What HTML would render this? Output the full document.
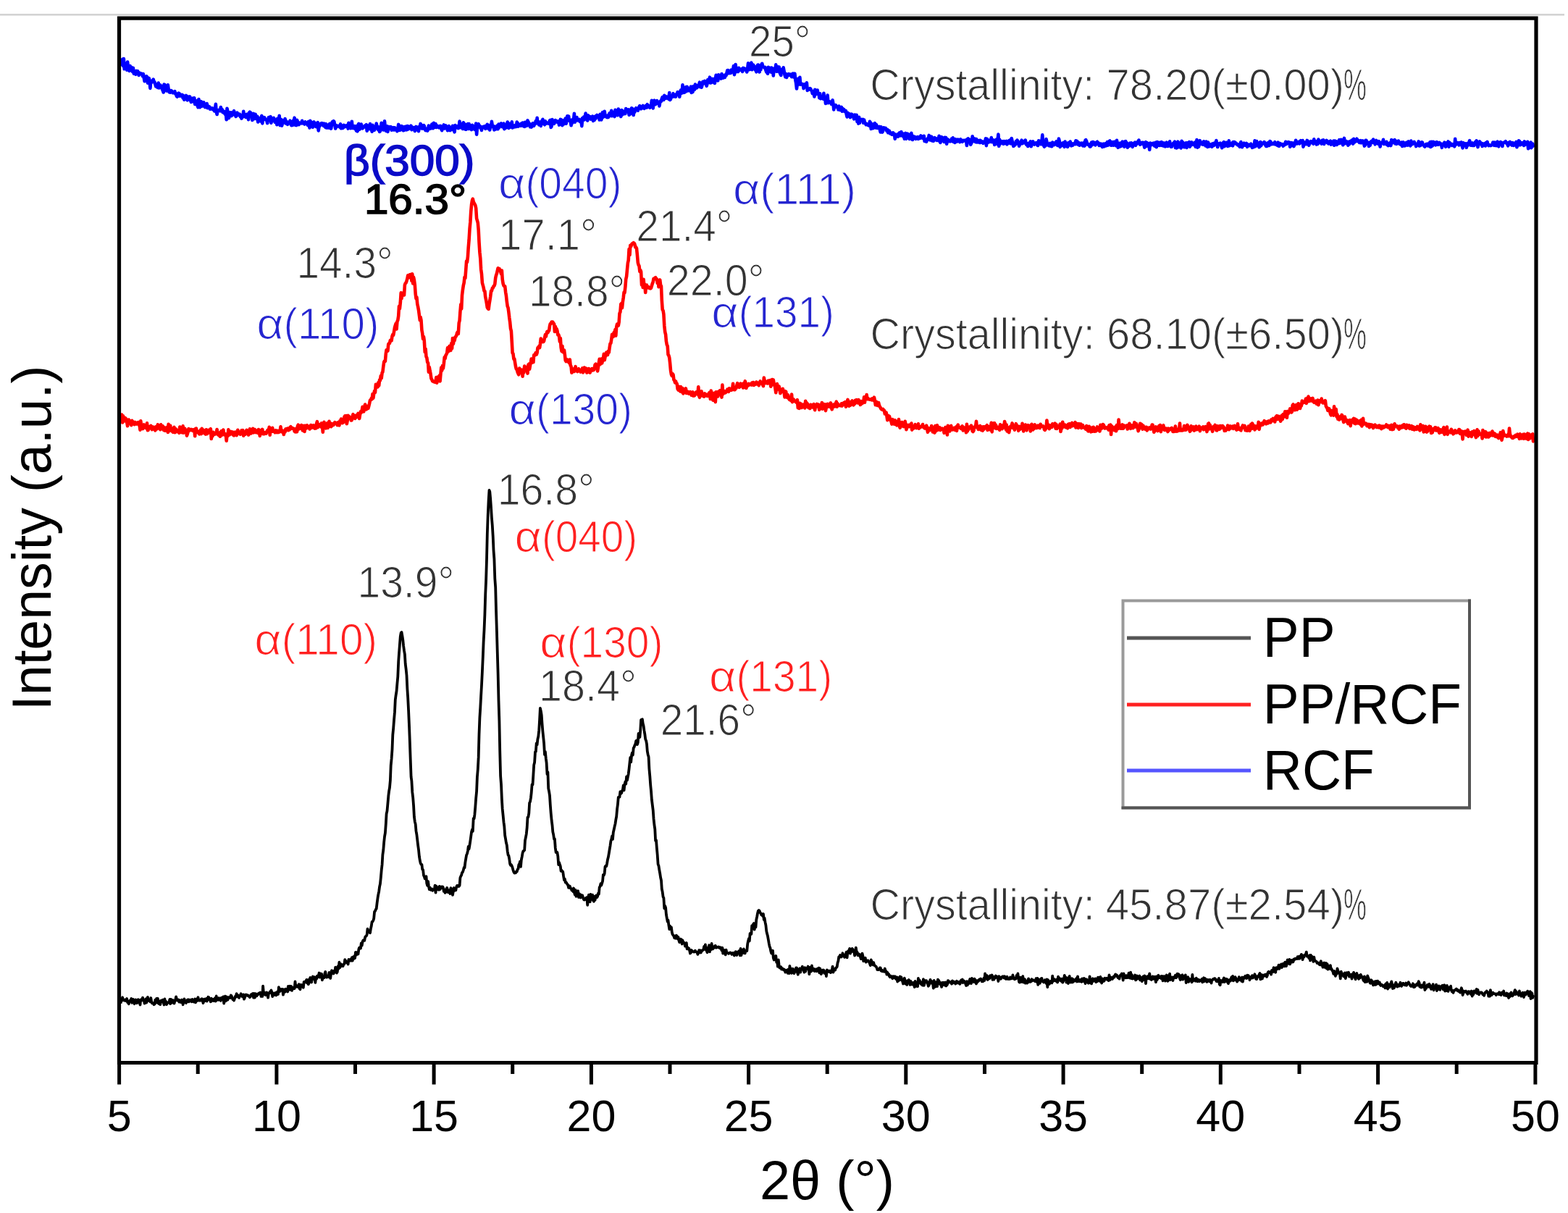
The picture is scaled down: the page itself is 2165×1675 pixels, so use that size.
<!DOCTYPE html>
<html><head><meta charset="utf-8"><title>XRD patterns</title>
<style>html,body{margin:0;padding:0;background:#fff;}svg{display:block;filter:blur(0.6px);}</style>
</head><body>
<svg width="2165" height="1675" viewBox="0 0 2165 1675">
<rect width="2165" height="1675" fill="#fff"/>
<rect x="0" y="19" width="2160" height="2.6" fill="#d3d3d3"/>
<path d="M166.5 91.2 167.4 84.3 168.2 85.2 169.1 81.8 170.0 91.1 170.9 81.1 171.7 95.3 172.6 87.5 173.5 91.7 174.3 90.4 175.2 96.7 176.1 85.5 176.9 91.9 177.8 92.3 178.7 97.9 179.6 91.0 180.4 94.7 181.3 92.9 182.2 96.6 183.0 98.9 183.9 93.8 184.8 101.8 185.6 101.5 186.5 100.8 187.4 102.6 188.3 97.9 189.1 100.3 190.0 98.1 190.9 100.8 191.7 104.0 192.6 100.5 193.5 102.0 194.3 101.5 195.2 101.5 196.1 102.6 197.0 105.2 197.8 102.1 198.7 107.0 199.6 112.2 200.4 109.6 201.3 106.7 202.2 105.3 203.0 106.2 203.9 114.6 204.8 109.8 205.7 108.0 206.5 111.1 207.4 121.9 208.3 111.8 209.1 113.9 210.0 113.3 210.9 111.7 211.7 109.6 212.6 112.6 213.5 113.5 214.4 116.5 215.2 119.4 216.1 118.6 217.0 116.9 217.8 121.0 218.7 114.5 219.6 121.4 220.4 119.5 221.3 117.3 222.2 120.3 223.1 119.0 223.9 123.2 224.8 124.9 225.7 127.5 226.5 116.6 227.4 116.9 228.3 120.3 229.1 122.8 230.0 125.5 230.9 124.2 231.8 117.2 232.6 122.5 233.5 127.1 234.4 125.6 235.2 127.7 236.1 125.0 237.0 125.5 237.8 127.1 238.7 128.2 239.6 128.0 240.5 128.1 241.3 126.1 242.2 129.7 243.1 129.3 243.9 132.9 244.8 133.5 245.7 130.7 246.5 128.7 247.4 129.0 248.3 132.6 249.2 132.0 250.0 131.0 250.9 132.6 251.8 131.0 252.6 135.4 253.5 132.3 254.4 137.8 255.2 135.7 256.1 136.7 257.0 131.9 257.9 136.2 258.7 138.3 259.6 133.5 260.5 136.0 261.3 137.3 262.2 133.4 263.1 138.9 263.9 140.9 264.8 136.1 265.7 140.2 266.6 135.5 267.4 139.7 268.3 135.3 269.2 144.0 270.0 142.2 270.9 141.2 271.8 139.3 272.6 145.8 273.5 148.2 274.4 137.0 275.3 146.6 276.1 148.1 277.0 144.5 277.9 140.2 278.7 146.7 279.6 143.9 280.5 142.9 281.3 141.4 282.2 147.0 283.1 148.0 284.0 144.1 284.8 147.8 285.7 143.1 286.6 149.2 287.4 147.3 288.3 146.9 289.2 147.4 290.0 150.6 290.9 150.5 291.8 150.2 292.7 149.4 293.5 149.5 294.4 151.4 295.3 150.6 296.1 153.5 297.0 149.7 297.9 143.8 298.7 154.3 299.6 158.0 300.5 153.2 301.4 152.0 302.2 152.1 303.1 152.5 304.0 153.2 304.8 148.1 305.7 152.1 306.6 151.0 307.4 154.8 308.3 153.4 309.2 155.9 310.1 154.1 310.9 157.7 311.8 155.6 312.7 165.3 313.5 149.8 314.4 153.6 315.3 158.2 316.1 163.1 317.0 155.2 317.9 156.1 318.8 155.5 319.6 160.1 320.5 155.6 321.4 158.5 322.2 155.7 323.1 153.1 324.0 157.8 324.8 158.5 325.7 160.9 326.6 156.9 327.5 155.6 328.3 159.1 329.2 158.3 330.1 158.5 330.9 157.6 331.8 161.2 332.7 159.1 333.5 163.6 334.4 161.4 335.3 161.4 336.2 153.8 337.0 160.3 337.9 159.9 338.8 161.2 339.6 161.9 340.5 157.9 341.4 161.6 342.2 157.7 343.1 165.1 344.0 155.8 344.9 154.7 345.7 155.2 346.6 157.5 347.5 157.0 348.3 166.0 349.2 159.7 350.1 156.9 350.9 164.1 351.8 159.5 352.7 157.8 353.6 164.0 354.4 163.5 355.3 160.7 356.2 168.5 357.0 162.7 357.9 167.1 358.8 164.1 359.6 167.3 360.5 163.4 361.4 159.9 362.3 170.4 363.1 162.2 364.0 163.3 364.9 162.1 365.7 163.7 366.6 165.2 367.5 165.2 368.3 166.7 369.2 170.1 370.1 164.9 371.0 162.0 371.8 162.3 372.7 163.9 373.6 161.2 374.4 169.8 375.3 164.8 376.2 165.5 377.0 166.5 377.9 162.8 378.8 164.4 379.7 168.8 380.5 168.8 381.4 165.9 382.3 172.3 383.1 163.7 384.0 166.5 384.9 166.9 385.7 159.8 386.6 173.1 387.5 168.8 388.4 164.9 389.2 173.6 390.1 169.6 391.0 169.2 391.8 166.4 392.7 168.5 393.6 164.0 394.4 170.5 395.3 167.3 396.2 168.8 397.1 171.8 397.9 169.3 398.8 169.3 399.7 169.4 400.5 166.7 401.4 171.1 402.3 173.1 403.1 171.0 404.0 172.9 404.9 166.6 405.8 166.6 406.6 162.7 407.5 172.6 408.4 168.5 409.2 173.1 410.1 165.9 411.0 168.2 411.8 169.7 412.7 172.1 413.6 169.7 414.5 170.2 415.3 169.8 416.2 170.3 417.1 166.8 417.9 170.1 418.8 169.5 419.7 169.9 420.5 171.5 421.4 168.3 422.3 170.1 423.2 169.6 424.0 171.6 424.9 172.7 425.8 168.0 426.6 172.3 427.5 176.5 428.4 166.9 429.2 168.7 430.1 168.7 431.0 170.4 431.9 175.7 432.7 171.4 433.6 168.4 434.5 173.3 435.3 170.0 436.2 174.8 437.1 172.7 437.9 175.7 438.8 169.1 439.7 180.4 440.6 174.5 441.4 174.1 442.3 172.2 443.2 170.5 444.0 170.2 444.9 172.3 445.8 170.6 446.6 173.6 447.5 170.7 448.4 174.7 449.3 175.7 450.1 171.2 451.0 176.5 451.9 172.6 452.7 176.5 453.6 174.6 454.5 176.5 455.3 170.8 456.2 173.3 457.1 177.6 458.0 172.1 458.8 168.3 459.7 168.6 460.6 167.1 461.4 168.2 462.3 172.9 463.2 177.5 464.0 172.9 464.9 175.1 465.8 173.9 466.7 174.3 467.5 173.9 468.4 173.9 469.3 175.7 470.1 171.3 471.0 177.3 471.9 177.1 472.7 174.1 473.6 176.8 474.5 172.8 475.4 173.3 476.2 175.2 477.1 174.3 478.0 173.7 478.8 173.1 479.7 173.5 480.6 177.6 481.4 169.8 482.3 176.0 483.2 174.5 484.1 177.1 484.9 176.6 485.8 167.7 486.7 176.9 487.5 176.2 488.4 175.4 489.3 174.1 490.1 177.7 491.0 174.3 491.9 180.4 492.8 177.0 493.6 181.3 494.5 172.2 495.4 170.9 496.2 178.7 497.1 177.9 498.0 175.8 498.8 171.6 499.7 174.5 500.6 177.4 501.5 175.3 502.3 175.5 503.2 175.4 504.1 173.4 504.9 174.5 505.8 172.1 506.7 180.7 507.5 174.7 508.4 177.3 509.3 173.3 510.2 178.2 511.0 171.1 511.9 178.6 512.8 176.1 513.6 181.8 514.5 172.7 515.4 176.4 516.2 177.2 517.1 179.6 518.0 175.1 518.9 176.5 519.7 170.6 520.6 174.1 521.5 177.5 522.3 179.3 523.2 175.6 524.1 181.9 524.9 181.1 525.8 176.2 526.7 169.9 527.6 171.6 528.4 174.3 529.3 179.4 530.2 177.2 531.0 167.4 531.9 175.8 532.8 180.7 533.6 174.8 534.5 174.4 535.4 181.9 536.3 176.6 537.1 175.1 538.0 177.3 538.9 176.4 539.7 175.2 540.6 179.6 541.5 179.4 542.3 178.7 543.2 176.1 544.1 179.5 545.0 176.3 545.8 177.7 546.7 179.2 547.6 178.6 548.4 181.2 549.3 177.6 550.2 171.9 551.0 173.3 551.9 180.0 552.8 175.5 553.7 177.4 554.5 174.1 555.4 179.1 556.3 175.4 557.1 180.3 558.0 175.0 558.9 179.4 559.7 179.3 560.6 174.5 561.5 179.3 562.4 174.0 563.2 174.2 564.1 178.3 565.0 174.7 565.8 174.8 566.7 175.5 567.6 173.7 568.4 179.2 569.3 178.0 570.2 176.2 571.1 176.0 571.9 177.5 572.8 181.0 573.7 180.0 574.5 174.9 575.4 178.4 576.3 175.9 577.1 175.7 578.0 181.2 578.9 175.1 579.8 174.9 580.6 170.9 581.5 172.4 582.4 177.4 583.2 174.3 584.1 177.5 585.0 173.1 585.8 174.0 586.7 177.9 587.6 180.0 588.5 177.6 589.3 179.2 590.2 180.6 591.1 178.8 591.9 173.5 592.8 175.6 593.7 177.6 594.5 174.8 595.4 177.1 596.3 171.6 597.2 173.6 598.0 177.2 598.9 169.8 599.8 172.8 600.6 175.7 601.5 171.1 602.4 175.9 603.2 173.5 604.1 174.9 605.0 175.0 605.9 176.2 606.7 174.1 607.6 175.9 608.5 174.0 609.3 178.0 610.2 180.1 611.1 176.1 611.9 176.0 612.8 172.4 613.7 177.4 614.6 173.4 615.4 173.3 616.3 177.0 617.2 175.9 618.0 180.2 618.9 179.3 619.8 174.0 620.6 175.8 621.5 180.1 622.4 178.0 623.3 177.3 624.1 178.9 625.0 173.7 625.9 177.1 626.7 179.1 627.6 182.3 628.5 173.1 629.3 174.6 630.2 176.3 631.1 174.5 632.0 174.2 632.8 177.1 633.7 174.3 634.6 167.5 635.4 176.2 636.3 174.1 637.2 173.3 638.0 171.0 638.9 177.9 639.8 169.2 640.7 170.6 641.5 174.4 642.4 178.5 643.3 178.7 644.1 172.0 645.0 174.7 645.9 171.1 646.7 177.9 647.6 171.1 648.5 174.7 649.4 177.9 650.2 174.5 651.1 179.1 652.0 172.7 652.8 176.1 653.7 177.4 654.6 174.7 655.4 178.8 656.3 176.5 657.2 170.6 658.1 185.7 658.9 176.8 659.8 175.3 660.7 171.2 661.5 175.2 662.4 173.7 663.3 176.7 664.1 175.9 665.0 179.9 665.9 175.3 666.8 176.3 667.6 175.9 668.5 174.5 669.4 174.4 670.2 177.8 671.1 176.9 672.0 173.1 672.8 171.8 673.7 174.6 674.6 177.9 675.5 174.7 676.3 179.5 677.2 172.6 678.1 175.1 678.9 167.9 679.8 173.1 680.7 173.8 681.5 176.0 682.4 179.3 683.3 174.7 684.2 178.5 685.0 176.4 685.9 177.2 686.8 173.3 687.6 178.3 688.5 171.6 689.4 175.8 690.2 171.9 691.1 173.0 692.0 170.4 692.9 172.9 693.7 175.2 694.6 174.0 695.5 170.5 696.3 178.1 697.2 175.0 698.1 176.8 698.9 176.1 699.8 172.1 700.7 168.6 701.6 171.3 702.4 177.0 703.3 170.8 704.2 175.8 705.0 171.8 705.9 174.5 706.8 168.4 707.6 176.5 708.5 173.1 709.4 175.5 710.3 173.6 711.1 175.2 712.0 172.6 712.9 174.8 713.7 168.6 714.6 169.7 715.5 174.6 716.3 172.4 717.2 171.8 718.1 171.9 719.0 173.7 719.8 170.6 720.7 173.5 721.6 169.6 722.4 170.9 723.3 174.6 724.2 174.8 725.0 168.8 725.9 174.0 726.8 168.8 727.7 173.6 728.5 166.3 729.4 168.4 730.3 170.0 731.1 170.9 732.0 175.2 732.9 173.7 733.7 175.5 734.6 174.4 735.5 170.3 736.4 170.2 737.2 173.8 738.1 171.0 739.0 170.4 739.8 167.1 740.7 170.4 741.6 162.9 742.4 169.3 743.3 167.8 744.2 172.3 745.1 169.0 745.9 169.4 746.8 173.9 747.7 167.3 748.5 171.0 749.4 164.8 750.3 170.2 751.1 171.0 752.0 172.2 752.9 167.3 753.8 170.6 754.6 170.5 755.5 169.5 756.4 169.9 757.2 170.7 758.1 170.4 759.0 166.5 759.8 165.9 760.7 176.0 761.6 174.3 762.5 165.1 763.3 170.1 764.2 170.5 765.1 170.8 765.9 169.0 766.8 166.0 767.7 168.0 768.5 167.1 769.4 168.7 770.3 167.5 771.2 167.8 772.0 172.6 772.9 171.5 773.8 164.7 774.6 166.6 775.5 165.6 776.4 173.2 777.2 167.5 778.1 171.6 779.0 166.1 779.9 167.4 780.7 163.5 781.6 170.8 782.5 166.1 783.3 160.4 784.2 165.3 785.1 160.4 785.9 166.7 786.8 167.0 787.7 167.4 788.6 173.2 789.4 165.5 790.3 169.9 791.2 167.1 792.0 165.6 792.9 156.7 793.8 168.6 794.6 163.6 795.5 165.8 796.4 162.0 797.3 166.3 798.1 165.7 799.0 165.4 799.9 164.8 800.7 168.0 801.6 167.7 802.5 166.9 803.3 174.1 804.2 163.0 805.1 163.5 806.0 161.6 806.8 165.5 807.7 162.2 808.6 156.5 809.4 160.5 810.3 164.0 811.2 166.5 812.0 159.2 812.9 161.7 813.8 162.9 814.7 161.1 815.5 164.6 816.4 162.9 817.3 164.2 818.1 160.6 819.0 166.9 819.9 162.4 820.7 165.9 821.6 160.9 822.5 163.7 823.4 159.9 824.2 159.0 825.1 159.6 826.0 161.3 826.8 160.7 827.7 165.5 828.6 157.7 829.4 157.7 830.3 165.5 831.2 162.3 832.1 155.0 832.9 161.7 833.8 160.8 834.7 153.8 835.5 158.8 836.4 159.6 837.3 161.6 838.1 162.1 839.0 159.5 839.9 162.0 840.8 158.5 841.6 156.3 842.5 155.9 843.4 160.0 844.2 152.7 845.1 160.1 846.0 154.8 846.8 156.8 847.7 159.1 848.6 161.0 849.5 151.8 850.3 154.9 851.2 157.3 852.1 155.2 852.9 159.2 853.8 150.5 854.7 157.4 855.5 157.4 856.4 156.2 857.3 161.0 858.2 152.1 859.0 158.7 859.9 153.3 860.8 157.3 861.6 154.0 862.5 157.1 863.4 156.9 864.2 150.1 865.1 153.7 866.0 153.7 866.9 153.1 867.7 151.4 868.6 158.8 869.5 153.8 870.3 157.5 871.2 151.1 872.1 149.4 872.9 152.7 873.8 150.4 874.7 158.9 875.6 152.3 876.4 154.8 877.3 150.5 878.2 149.3 879.0 150.5 879.9 151.4 880.8 152.6 881.6 149.4 882.5 147.5 883.4 146.1 884.3 148.7 885.1 150.3 886.0 149.7 886.9 148.0 887.7 146.0 888.6 147.9 889.5 149.9 890.3 146.7 891.2 146.8 892.1 145.7 893.0 148.6 893.8 144.2 894.7 145.8 895.6 146.1 896.4 146.7 897.3 148.7 898.2 145.9 899.0 145.3 899.9 138.8 900.8 144.7 901.7 149.4 902.5 139.7 903.4 138.8 904.3 140.8 905.1 144.2 906.0 142.4 906.9 139.0 907.7 140.0 908.6 142.9 909.5 141.4 910.4 146.4 911.2 141.7 912.1 139.4 913.0 139.8 913.8 136.4 914.7 134.1 915.6 137.2 916.4 137.8 917.3 131.7 918.2 133.9 919.1 133.4 919.9 135.6 920.8 133.7 921.7 135.5 922.5 134.1 923.4 136.8 924.3 128.0 925.1 138.0 926.0 137.0 926.9 132.5 927.8 134.1 928.6 133.6 929.5 129.2 930.4 131.7 931.2 133.3 932.1 132.2 933.0 133.6 933.8 130.3 934.7 130.0 935.6 127.1 936.5 128.0 937.3 127.4 938.2 133.8 939.1 128.9 939.9 124.7 940.8 128.8 941.7 126.6 942.5 117.3 943.4 128.0 944.3 121.3 945.2 127.6 946.0 122.5 946.9 120.5 947.8 126.3 948.6 119.7 949.5 122.7 950.4 124.3 951.2 125.3 952.1 125.3 953.0 122.5 953.9 119.6 954.7 128.0 955.6 119.7 956.5 126.9 957.3 119.4 958.2 124.2 959.1 123.6 959.9 116.5 960.8 120.6 961.7 121.5 962.6 121.0 963.4 117.8 964.3 119.0 965.2 116.5 966.0 113.6 966.9 120.2 967.8 114.9 968.6 120.7 969.5 117.9 970.4 112.8 971.3 114.7 972.1 114.0 973.0 111.8 973.9 115.8 974.7 112.3 975.6 118.8 976.5 115.9 977.3 110.0 978.2 112.4 979.1 111.4 980.0 106.7 980.8 114.4 981.7 114.2 982.6 113.7 983.4 108.9 984.3 113.5 985.2 109.0 986.0 112.4 986.9 114.9 987.8 109.1 988.7 103.7 989.5 107.0 990.4 109.7 991.3 111.3 992.1 103.3 993.0 106.0 993.9 107.0 994.7 107.3 995.6 108.5 996.5 102.1 997.4 103.4 998.2 107.7 999.1 105.3 1000.0 105.1 1000.8 106.9 1001.7 103.2 1002.6 104.2 1003.4 101.1 1004.3 97.3 1005.2 97.1 1006.1 101.2 1006.9 100.0 1007.8 98.1 1008.7 101.0 1009.5 96.7 1010.4 99.8 1011.3 99.1 1012.1 96.1 1013.0 91.0 1013.9 103.2 1014.8 99.2 1015.6 89.1 1016.5 96.3 1017.4 98.8 1018.2 96.5 1019.1 99.0 1020.0 93.7 1020.8 97.3 1021.7 96.3 1022.6 95.7 1023.5 95.4 1024.3 96.6 1025.2 98.9 1026.1 93.9 1026.9 94.2 1027.8 96.0 1028.7 94.9 1029.5 96.5 1030.4 97.5 1031.3 99.4 1032.2 94.6 1033.0 87.4 1033.9 94.6 1034.8 96.0 1035.6 94.1 1036.5 94.2 1037.4 86.5 1038.2 96.3 1039.1 93.4 1040.0 89.4 1040.9 91.5 1041.7 91.5 1042.6 96.4 1043.5 96.2 1044.3 99.3 1045.2 96.4 1046.1 89.7 1046.9 89.5 1047.8 98.0 1048.7 99.4 1049.6 93.4 1050.4 96.1 1051.3 89.2 1052.2 87.8 1053.0 90.4 1053.9 92.4 1054.8 92.7 1055.6 93.7 1056.5 92.9 1057.4 96.9 1058.3 99.5 1059.1 95.0 1060.0 101.7 1060.9 92.9 1061.7 93.4 1062.6 96.5 1063.5 94.2 1064.3 99.4 1065.2 93.5 1066.1 100.1 1067.0 96.5 1067.8 104.5 1068.7 94.6 1069.6 95.6 1070.4 96.9 1071.3 89.4 1072.2 98.8 1073.0 98.6 1073.9 97.6 1074.8 92.4 1075.7 92.6 1076.5 100.0 1077.4 102.2 1078.3 103.9 1079.1 95.9 1080.0 95.8 1080.9 98.6 1081.7 93.3 1082.6 98.2 1083.5 103.3 1084.4 106.2 1085.2 102.1 1086.1 106.9 1087.0 103.2 1087.8 102.9 1088.7 102.2 1089.6 103.8 1090.4 102.8 1091.3 103.7 1092.2 102.6 1093.1 106.1 1093.9 105.9 1094.8 101.6 1095.7 106.3 1096.5 104.9 1097.4 101.7 1098.3 110.5 1099.1 114.6 1100.0 122.5 1100.9 115.9 1101.8 108.7 1102.6 115.9 1103.5 116.3 1104.4 106.9 1105.2 116.7 1106.1 116.5 1107.0 115.6 1107.8 116.6 1108.7 116.5 1109.6 122.1 1110.5 116.2 1111.3 117.5 1112.2 118.8 1113.1 120.3 1113.9 114.4 1114.8 125.0 1115.7 122.4 1116.5 123.7 1117.4 123.1 1118.3 122.2 1119.2 122.6 1120.0 124.6 1120.9 125.4 1121.8 129.1 1122.6 127.2 1123.5 126.3 1124.4 133.5 1125.2 123.9 1126.1 124.3 1127.0 130.1 1127.9 128.9 1128.7 124.6 1129.6 129.7 1130.5 129.1 1131.3 135.3 1132.2 129.3 1133.1 136.2 1133.9 135.8 1134.8 133.4 1135.7 134.7 1136.6 136.5 1137.4 128.7 1138.3 137.3 1139.2 135.7 1140.0 142.9 1140.9 135.9 1141.8 142.0 1142.6 131.5 1143.5 142.1 1144.4 141.1 1145.3 140.1 1146.1 141.0 1147.0 141.2 1147.9 143.8 1148.7 142.7 1149.6 138.3 1150.5 143.7 1151.3 151.5 1152.2 145.5 1153.1 146.8 1154.0 145.2 1154.8 147.6 1155.7 148.2 1156.6 147.4 1157.4 151.3 1158.3 146.6 1159.2 149.5 1160.0 151.9 1160.9 150.2 1161.8 147.9 1162.7 153.7 1163.5 149.7 1164.4 151.8 1165.3 151.2 1166.1 153.9 1167.0 153.5 1167.9 153.1 1168.7 157.8 1169.6 161.4 1170.5 155.8 1171.4 158.9 1172.2 156.9 1173.1 158.7 1174.0 162.1 1174.8 159.6 1175.7 157.6 1176.6 158.3 1177.4 159.1 1178.3 161.3 1179.2 164.3 1180.1 158.5 1180.9 159.9 1181.8 160.7 1182.7 158.9 1183.5 168.0 1184.4 164.7 1185.3 170.6 1186.1 161.7 1187.0 169.8 1187.9 164.7 1188.8 166.0 1189.6 164.8 1190.5 165.4 1191.4 164.8 1192.2 169.8 1193.1 165.6 1194.0 169.0 1194.8 170.0 1195.7 172.2 1196.6 171.0 1197.5 171.9 1198.3 172.8 1199.2 171.6 1200.1 173.5 1200.9 167.9 1201.8 169.1 1202.7 177.9 1203.5 173.0 1204.4 171.3 1205.3 177.2 1206.2 173.3 1207.0 172.2 1207.9 170.2 1208.8 176.5 1209.6 171.7 1210.5 173.4 1211.4 176.8 1212.2 175.8 1213.1 175.4 1214.0 174.9 1214.9 179.2 1215.7 182.4 1216.6 175.3 1217.5 178.6 1218.3 182.6 1219.2 180.7 1220.1 176.3 1220.9 177.4 1221.8 177.3 1222.7 176.9 1223.6 178.1 1224.4 180.8 1225.3 178.9 1226.2 183.2 1227.0 181.6 1227.9 180.6 1228.8 184.3 1229.6 183.2 1230.5 183.4 1231.4 185.7 1232.3 184.8 1233.1 183.3 1234.0 186.2 1234.9 184.8 1235.7 191.8 1236.6 187.3 1237.5 187.6 1238.3 188.2 1239.2 185.3 1240.1 188.6 1241.0 185.5 1241.8 183.5 1242.7 184.3 1243.6 187.3 1244.4 182.1 1245.3 186.8 1246.2 184.5 1247.0 188.4 1247.9 184.8 1248.8 191.6 1249.7 188.9 1250.5 183.9 1251.4 191.7 1252.3 186.9 1253.1 184.7 1254.0 185.2 1254.9 189.3 1255.7 191.8 1256.6 186.7 1257.5 185.8 1258.4 183.9 1259.2 192.4 1260.1 192.9 1261.0 188.0 1261.8 190.4 1262.7 189.2 1263.6 189.1 1264.4 191.8 1265.3 190.6 1266.2 190.5 1267.1 189.1 1267.9 191.9 1268.8 189.3 1269.7 190.3 1270.5 190.8 1271.4 187.4 1272.3 189.7 1273.1 189.8 1274.0 190.9 1274.9 188.0 1275.8 187.9 1276.6 194.9 1277.5 193.9 1278.4 193.3 1279.2 195.7 1280.1 192.3 1281.0 191.1 1281.8 192.6 1282.7 186.9 1283.6 188.9 1284.5 193.5 1285.3 191.8 1286.2 188.7 1287.1 194.5 1287.9 194.4 1288.8 194.7 1289.7 192.0 1290.5 190.1 1291.4 192.5 1292.3 193.4 1293.2 191.5 1294.0 193.9 1294.9 193.3 1295.8 193.4 1296.6 187.7 1297.5 195.3 1298.4 196.9 1299.2 191.8 1300.1 189.2 1301.0 194.4 1301.9 191.8 1302.7 190.6 1303.6 195.9 1304.5 189.7 1305.3 194.8 1306.2 190.1 1307.1 198.8 1307.9 194.4 1308.8 192.6 1309.7 193.6 1310.6 194.7 1311.4 195.3 1312.3 195.3 1313.2 194.7 1314.0 191.6 1314.9 195.0 1315.8 190.3 1316.6 195.9 1317.5 195.6 1318.4 196.9 1319.3 192.2 1320.1 194.1 1321.0 195.7 1321.9 194.5 1322.7 192.7 1323.6 194.5 1324.5 193.9 1325.3 196.2 1326.2 192.3 1327.1 194.7 1328.0 194.6 1328.8 195.7 1329.7 193.8 1330.6 194.5 1331.4 193.8 1332.3 194.1 1333.2 194.1 1334.0 193.3 1334.9 200.9 1335.8 192.1 1336.7 191.4 1337.5 192.3 1338.4 192.5 1339.3 194.3 1340.1 199.7 1341.0 198.3 1341.9 194.9 1342.7 188.4 1343.6 195.3 1344.5 191.3 1345.4 193.2 1346.2 191.7 1347.1 196.1 1348.0 192.1 1348.8 196.4 1349.7 196.4 1350.6 194.0 1351.4 194.8 1352.3 196.8 1353.2 193.8 1354.1 196.8 1354.9 194.6 1355.8 195.4 1356.7 196.6 1357.5 197.9 1358.4 196.0 1359.3 195.0 1360.1 196.6 1361.0 191.2 1361.9 201.1 1362.8 191.8 1363.6 197.1 1364.5 193.6 1365.4 196.2 1366.2 194.7 1367.1 195.8 1368.0 193.2 1368.8 190.0 1369.7 196.1 1370.6 193.7 1371.5 193.7 1372.3 193.5 1373.2 199.9 1374.1 193.9 1374.9 196.1 1375.8 192.6 1376.7 199.0 1377.5 194.1 1378.4 185.6 1379.3 201.8 1380.2 192.9 1381.0 198.6 1381.9 197.3 1382.8 197.1 1383.6 195.1 1384.5 196.1 1385.4 198.6 1386.2 195.0 1387.1 196.4 1388.0 198.0 1388.9 196.0 1389.7 194.9 1390.6 199.3 1391.5 196.7 1392.3 195.7 1393.2 194.2 1394.1 193.7 1394.9 198.2 1395.8 198.3 1396.7 191.1 1397.6 194.8 1398.4 198.5 1399.3 201.9 1400.2 201.3 1401.0 198.5 1401.9 199.6 1402.8 195.2 1403.6 198.3 1404.5 193.6 1405.4 195.2 1406.3 197.3 1407.1 201.7 1408.0 199.4 1408.9 197.3 1409.7 196.3 1410.6 193.7 1411.5 198.2 1412.3 196.0 1413.2 197.4 1414.1 194.9 1415.0 197.2 1415.8 193.5 1416.7 198.9 1417.6 200.1 1418.4 199.2 1419.3 202.0 1420.2 197.9 1421.0 198.4 1421.9 198.4 1422.8 195.3 1423.7 202.3 1424.5 199.6 1425.4 196.8 1426.3 195.4 1427.1 198.8 1428.0 199.5 1428.9 198.0 1429.7 198.0 1430.6 197.2 1431.5 197.6 1432.4 200.7 1433.2 200.9 1434.1 194.3 1435.0 198.1 1435.8 195.0 1436.7 194.8 1437.6 199.2 1438.4 196.0 1439.3 186.4 1440.2 199.4 1441.1 200.9 1441.9 202.6 1442.8 197.1 1443.7 201.3 1444.5 192.1 1445.4 195.7 1446.3 199.3 1447.1 199.2 1448.0 201.1 1448.9 200.3 1449.8 198.0 1450.6 201.7 1451.5 199.8 1452.4 202.1 1453.2 196.5 1454.1 199.0 1455.0 197.3 1455.8 200.1 1456.7 197.8 1457.6 197.8 1458.5 195.4 1459.3 199.1 1460.2 200.9 1461.1 200.7 1461.9 191.6 1462.8 194.8 1463.7 203.0 1464.5 198.0 1465.4 198.1 1466.3 201.1 1467.2 199.2 1468.0 197.1 1468.9 198.1 1469.8 202.8 1470.6 195.5 1471.5 201.5 1472.4 197.9 1473.2 198.0 1474.1 202.8 1475.0 197.2 1475.9 200.5 1476.7 197.9 1477.6 195.5 1478.5 198.3 1479.3 201.3 1480.2 198.3 1481.1 200.7 1481.9 199.2 1482.8 198.9 1483.7 197.8 1484.6 199.1 1485.4 194.3 1486.3 197.2 1487.2 194.8 1488.0 199.4 1488.9 199.6 1489.8 197.1 1490.6 200.7 1491.5 199.8 1492.4 199.6 1493.3 197.6 1494.1 200.0 1495.0 201.3 1495.9 197.5 1496.7 197.1 1497.6 201.6 1498.5 193.8 1499.3 193.2 1500.2 195.0 1501.1 199.4 1502.0 199.4 1502.8 200.1 1503.7 199.2 1504.6 202.5 1505.4 202.5 1506.3 201.6 1507.2 196.5 1508.0 199.9 1508.9 196.0 1509.8 198.0 1510.7 196.8 1511.5 199.1 1512.4 200.3 1513.3 199.3 1514.1 196.5 1515.0 195.8 1515.9 197.5 1516.7 197.4 1517.6 200.9 1518.5 198.5 1519.4 198.7 1520.2 198.6 1521.1 201.6 1522.0 202.8 1522.8 200.1 1523.7 198.6 1524.6 202.3 1525.4 200.2 1526.3 198.3 1527.2 201.4 1528.1 199.7 1528.9 196.0 1529.8 200.6 1530.7 199.9 1531.5 195.1 1532.4 194.5 1533.3 199.5 1534.1 200.7 1535.0 200.5 1535.9 196.2 1536.8 198.4 1537.6 200.7 1538.5 195.8 1539.4 199.5 1540.2 199.7 1541.1 201.2 1542.0 193.8 1542.8 199.5 1543.7 203.7 1544.6 197.8 1545.5 198.5 1546.3 202.6 1547.2 197.5 1548.1 201.8 1548.9 200.4 1549.8 195.7 1550.7 199.4 1551.5 196.0 1552.4 202.6 1553.3 195.5 1554.2 195.2 1555.0 196.7 1555.9 197.4 1556.8 203.8 1557.6 199.2 1558.5 199.8 1559.4 201.6 1560.2 197.7 1561.1 197.9 1562.0 197.3 1562.9 200.9 1563.7 202.8 1564.6 200.1 1565.5 197.8 1566.3 198.1 1567.2 196.7 1568.1 200.8 1568.9 196.9 1569.8 198.6 1570.7 196.6 1571.6 195.0 1572.4 193.6 1573.3 197.2 1574.2 199.7 1575.0 198.5 1575.9 198.7 1576.8 196.8 1577.6 197.1 1578.5 196.8 1579.4 199.7 1580.3 203.7 1581.1 198.9 1582.0 196.2 1582.9 202.0 1583.7 197.0 1584.6 200.4 1585.5 198.2 1586.3 199.4 1587.2 206.8 1588.1 197.5 1589.0 197.9 1589.8 200.0 1590.7 199.2 1591.6 198.3 1592.4 197.7 1593.3 200.5 1594.2 201.6 1595.0 197.1 1595.9 196.7 1596.8 203.2 1597.7 196.1 1598.5 200.8 1599.4 200.8 1600.3 196.8 1601.1 200.9 1602.0 196.8 1602.9 196.8 1603.7 196.1 1604.6 201.0 1605.5 197.6 1606.4 201.6 1607.2 197.4 1608.1 200.6 1609.0 202.3 1609.8 199.0 1610.7 196.7 1611.6 198.4 1612.4 202.0 1613.3 200.8 1614.2 198.3 1615.1 195.3 1615.9 200.8 1616.8 202.8 1617.7 202.8 1618.5 200.2 1619.4 198.5 1620.3 197.5 1621.1 197.9 1622.0 195.6 1622.9 203.9 1623.8 199.1 1624.6 204.5 1625.5 199.0 1626.4 195.6 1627.2 203.3 1628.1 197.3 1629.0 198.2 1629.8 202.8 1630.7 204.4 1631.6 194.7 1632.5 199.2 1633.3 196.8 1634.2 200.4 1635.1 203.2 1635.9 198.1 1636.8 202.5 1637.7 197.2 1638.5 204.0 1639.4 197.4 1640.3 198.2 1641.2 199.9 1642.0 196.1 1642.9 202.6 1643.8 196.8 1644.6 200.6 1645.5 196.4 1646.4 199.4 1647.2 199.2 1648.1 198.3 1649.0 200.3 1649.9 196.7 1650.7 202.6 1651.6 199.6 1652.5 193.0 1653.3 203.6 1654.2 200.2 1655.1 202.6 1655.9 198.8 1656.8 194.2 1657.7 198.3 1658.6 196.5 1659.4 199.1 1660.3 198.1 1661.2 199.7 1662.0 195.3 1662.9 199.3 1663.8 198.2 1664.6 201.4 1665.5 195.5 1666.4 198.3 1667.3 202.9 1668.1 196.6 1669.0 200.8 1669.9 202.1 1670.7 199.2 1671.6 201.4 1672.5 201.5 1673.3 202.7 1674.2 198.4 1675.1 199.0 1676.0 201.0 1676.8 197.6 1677.7 199.3 1678.6 197.7 1679.4 194.1 1680.3 199.9 1681.2 203.0 1682.0 198.4 1682.9 199.4 1683.8 198.2 1684.7 197.6 1685.5 199.5 1686.4 201.6 1687.3 204.1 1688.1 201.0 1689.0 197.1 1689.9 196.1 1690.7 202.1 1691.6 199.9 1692.5 197.0 1693.4 196.9 1694.2 197.4 1695.1 201.9 1696.0 199.2 1696.8 194.3 1697.7 201.1 1698.6 199.9 1699.4 198.6 1700.3 200.5 1701.2 197.4 1702.1 201.3 1702.9 196.1 1703.8 197.2 1704.7 196.2 1705.5 198.3 1706.4 197.5 1707.3 198.4 1708.1 199.2 1709.0 200.4 1709.9 199.5 1710.8 199.8 1711.6 202.7 1712.5 198.6 1713.4 196.0 1714.2 201.3 1715.1 203.2 1716.0 199.6 1716.8 201.0 1717.7 197.7 1718.6 199.6 1719.5 200.6 1720.3 200.0 1721.2 198.0 1722.1 202.8 1722.9 199.5 1723.8 201.2 1724.7 200.0 1725.5 201.1 1726.4 201.2 1727.3 198.6 1728.2 200.9 1729.0 203.9 1729.9 203.5 1730.8 200.8 1731.6 202.8 1732.5 194.4 1733.4 202.3 1734.2 199.2 1735.1 195.0 1736.0 199.4 1736.9 201.1 1737.7 197.4 1738.6 203.3 1739.5 201.9 1740.3 196.1 1741.2 201.2 1742.1 199.1 1742.9 197.6 1743.8 198.2 1744.7 197.9 1745.6 196.1 1746.4 197.8 1747.3 200.3 1748.2 202.0 1749.0 202.0 1749.9 197.5 1750.8 198.5 1751.6 196.8 1752.5 201.0 1753.4 195.0 1754.3 195.6 1755.1 197.2 1756.0 199.2 1756.9 197.9 1757.7 198.7 1758.6 198.7 1759.5 199.1 1760.3 196.2 1761.2 197.7 1762.1 199.8 1763.0 199.1 1763.8 200.9 1764.7 196.7 1765.6 201.7 1766.4 201.7 1767.3 198.0 1768.2 198.9 1769.0 198.8 1769.9 199.5 1770.8 199.2 1771.7 201.6 1772.5 199.4 1773.4 200.2 1774.3 199.0 1775.1 195.8 1776.0 199.1 1776.9 197.6 1777.7 196.7 1778.6 196.1 1779.5 197.9 1780.4 196.7 1781.2 202.7 1782.1 201.6 1783.0 197.0 1783.8 199.6 1784.7 200.6 1785.6 197.6 1786.4 202.1 1787.3 200.0 1788.2 197.7 1789.1 193.8 1789.9 195.6 1790.8 198.5 1791.7 196.8 1792.5 197.7 1793.4 195.9 1794.3 198.3 1795.1 196.6 1796.0 194.1 1796.9 196.8 1797.8 196.3 1798.6 194.0 1799.5 202.7 1800.4 197.3 1801.2 196.7 1802.1 199.1 1803.0 197.2 1803.8 199.1 1804.7 193.9 1805.6 194.9 1806.5 198.5 1807.3 200.6 1808.2 197.2 1809.1 197.6 1809.9 195.2 1810.8 197.0 1811.7 195.4 1812.5 196.6 1813.4 198.6 1814.3 192.3 1815.2 197.3 1816.0 195.0 1816.9 195.3 1817.8 199.4 1818.6 197.4 1819.5 198.8 1820.4 192.5 1821.2 195.6 1822.1 195.5 1823.0 195.2 1823.9 197.5 1824.7 198.5 1825.6 193.8 1826.5 194.2 1827.3 193.4 1828.2 199.0 1829.1 195.1 1829.9 196.0 1830.8 195.5 1831.7 194.0 1832.6 197.1 1833.4 197.1 1834.3 198.4 1835.2 195.6 1836.0 195.4 1836.9 194.7 1837.8 199.6 1838.6 198.4 1839.5 196.0 1840.4 197.6 1841.3 194.7 1842.1 200.8 1843.0 194.6 1843.9 195.1 1844.7 195.1 1845.6 200.0 1846.5 196.3 1847.3 198.5 1848.2 195.7 1849.1 193.2 1850.0 197.8 1850.8 194.6 1851.7 192.9 1852.6 195.1 1853.4 197.5 1854.3 200.2 1855.2 192.8 1856.0 190.9 1856.9 198.3 1857.8 196.8 1858.7 194.8 1859.5 197.1 1860.4 197.8 1861.3 200.6 1862.1 195.9 1863.0 199.2 1863.9 195.2 1864.7 195.0 1865.6 197.2 1866.5 193.7 1867.4 193.3 1868.2 198.6 1869.1 191.8 1870.0 196.6 1870.8 195.6 1871.7 195.5 1872.6 193.3 1873.4 191.7 1874.3 194.9 1875.2 193.8 1876.1 195.5 1876.9 196.9 1877.8 194.8 1878.7 194.1 1879.5 197.3 1880.4 194.9 1881.3 194.4 1882.1 196.0 1883.0 197.4 1883.9 201.6 1884.8 200.5 1885.6 193.9 1886.5 193.8 1887.4 197.0 1888.2 198.2 1889.1 196.6 1890.0 201.9 1890.8 199.7 1891.7 200.8 1892.6 196.0 1893.5 195.0 1894.3 194.6 1895.2 196.8 1896.1 192.5 1896.9 195.7 1897.8 196.2 1898.7 199.3 1899.5 196.1 1900.4 194.0 1901.3 196.2 1902.2 197.7 1903.0 198.6 1903.9 195.2 1904.8 198.8 1905.6 202.4 1906.5 198.5 1907.4 197.9 1908.2 196.4 1909.1 196.0 1910.0 192.8 1910.9 198.9 1911.7 196.7 1912.6 197.9 1913.5 198.7 1914.3 195.8 1915.2 199.9 1916.1 197.9 1916.9 201.1 1917.8 198.1 1918.7 198.4 1919.6 197.1 1920.4 201.1 1921.3 193.0 1922.2 196.6 1923.0 197.1 1923.9 194.4 1924.8 196.1 1925.6 193.0 1926.5 198.4 1927.4 194.8 1928.3 198.8 1929.1 197.4 1930.0 196.2 1930.9 194.6 1931.7 196.6 1932.6 198.9 1933.5 197.9 1934.3 199.7 1935.2 196.5 1936.1 201.9 1937.0 197.8 1937.8 196.4 1938.7 201.3 1939.6 201.4 1940.4 198.2 1941.3 197.3 1942.2 200.5 1943.0 196.5 1943.9 200.6 1944.8 195.4 1945.7 198.4 1946.5 198.6 1947.4 201.3 1948.3 194.5 1949.1 199.5 1950.0 198.4 1950.9 198.7 1951.7 196.8 1952.6 195.9 1953.5 197.7 1954.4 198.3 1955.2 202.1 1956.1 199.1 1957.0 198.9 1957.8 200.4 1958.7 195.3 1959.6 201.5 1960.4 201.0 1961.3 201.0 1962.2 198.2 1963.1 196.3 1963.9 196.8 1964.8 199.6 1965.7 200.2 1966.5 201.9 1967.4 202.5 1968.3 201.0 1969.1 199.2 1970.0 199.7 1970.9 198.6 1971.8 201.5 1972.6 200.5 1973.5 199.6 1974.4 196.4 1975.2 202.9 1976.1 195.8 1977.0 201.9 1977.8 201.4 1978.7 195.7 1979.6 199.1 1980.5 196.5 1981.3 198.9 1982.2 200.4 1983.1 198.9 1983.9 196.2 1984.8 199.8 1985.7 199.8 1986.5 199.1 1987.4 196.9 1988.3 198.0 1989.2 199.8 1990.0 198.8 1990.9 203.8 1991.8 199.7 1992.6 198.7 1993.5 200.2 1994.4 196.7 1995.2 200.1 1996.1 202.7 1997.0 197.2 1997.9 199.8 1998.7 200.8 1999.6 195.4 2000.5 202.8 2001.3 196.8 2002.2 197.9 2003.1 199.9 2003.9 198.6 2004.8 200.9 2005.7 199.4 2006.6 200.3 2007.4 199.2 2008.3 202.3 2009.2 191.9 2010.0 199.9 2010.9 198.4 2011.8 196.9 2012.6 197.2 2013.5 197.7 2014.4 200.3 2015.3 197.0 2016.1 198.6 2017.0 199.6 2017.9 196.4 2018.7 201.4 2019.6 204.3 2020.5 197.4 2021.3 201.0 2022.2 198.2 2023.1 200.1 2024.0 198.5 2024.8 203.8 2025.7 198.2 2026.6 200.7 2027.4 200.2 2028.3 196.5 2029.2 194.1 2030.0 200.1 2030.9 200.7 2031.8 197.6 2032.7 197.4 2033.5 201.0 2034.4 200.7 2035.3 200.9 2036.1 199.4 2037.0 196.0 2037.9 196.1 2038.7 194.3 2039.6 198.6 2040.5 203.1 2041.4 199.8 2042.2 198.6 2043.1 195.4 2044.0 197.3 2044.8 198.8 2045.7 197.9 2046.6 202.0 2047.4 198.4 2048.3 200.3 2049.2 198.5 2050.1 198.3 2050.9 201.5 2051.8 197.0 2052.7 198.1 2053.5 195.8 2054.4 199.1 2055.3 201.1 2056.1 200.2 2057.0 200.3 2057.9 201.1 2058.8 200.9 2059.6 200.4 2060.5 199.6 2061.4 196.5 2062.2 199.9 2063.1 200.8 2064.0 196.7 2064.8 199.2 2065.7 201.1 2066.6 197.9 2067.5 195.7 2068.3 198.8 2069.2 202.3 2070.1 196.7 2070.9 198.5 2071.8 196.0 2072.7 197.9 2073.5 199.2 2074.4 202.0 2075.3 197.1 2076.2 197.1 2077.0 196.8 2077.9 196.3 2078.8 195.3 2079.6 196.8 2080.5 198.5 2081.4 198.8 2082.2 201.3 2083.1 196.9 2084.0 197.0 2084.9 196.0 2085.7 199.2 2086.6 198.4 2087.5 200.5 2088.3 197.0 2089.2 200.8 2090.1 200.9 2090.9 198.2 2091.8 197.4 2092.7 199.2 2093.6 195.9 2094.4 203.2 2095.3 199.1 2096.2 200.5 2097.0 194.2 2097.9 194.9 2098.8 200.3 2099.6 199.9 2100.5 197.1 2101.4 197.5 2102.3 197.3 2103.1 199.3 2104.0 200.9 2104.9 195.4 2105.7 199.9 2106.6 196.9 2107.5 196.9 2108.3 198.5 2109.2 195.8 2110.1 205.2 2111.0 204.2 2111.8 200.5 2112.7 200.3 2113.6 196.5 2114.4 204.2 2115.3 198.9 2116.2 198.6 2117.0 201.6 2117.9 199.5" fill="none" stroke="#0000ff" stroke-width="4.6" stroke-linejoin="round"/>
<path d="M166.5 576.6 167.4 578.0 168.2 572.5 169.1 583.5 170.0 574.3 170.9 577.3 171.7 581.5 172.6 577.0 173.5 577.9 174.3 578.7 175.2 583.1 176.1 588.3 176.9 582.4 177.8 579.5 178.7 584.4 179.6 581.6 180.4 583.6 181.3 587.2 182.2 580.9 183.0 584.6 183.9 582.4 184.8 584.5 185.6 586.1 186.5 583.0 187.4 585.1 188.3 585.6 189.1 584.8 190.0 583.5 190.9 583.1 191.7 586.8 192.6 586.7 193.5 593.7 194.3 581.2 195.2 588.3 196.1 589.2 197.0 592.1 197.8 589.9 198.7 586.4 199.6 588.9 200.4 590.5 201.3 588.3 202.2 591.4 203.0 584.4 203.9 594.2 204.8 593.7 205.7 588.9 206.5 591.6 207.4 590.2 208.3 588.0 209.1 590.6 210.0 593.1 210.9 589.5 211.7 589.7 212.6 590.6 213.5 592.0 214.4 594.4 215.2 589.4 216.1 592.6 217.0 591.9 217.8 586.4 218.7 589.7 219.6 591.2 220.4 591.6 221.3 593.2 222.2 586.4 223.1 592.1 223.9 590.2 224.8 588.3 225.7 593.6 226.5 594.2 227.4 590.6 228.3 594.7 229.1 591.5 230.0 592.8 230.9 589.8 231.8 597.0 232.6 585.8 233.5 592.7 234.4 594.9 235.2 587.8 236.1 592.7 237.0 593.1 237.8 595.5 238.7 596.7 239.6 592.4 240.5 589.9 241.3 597.2 242.2 596.9 243.1 592.6 243.9 594.8 244.8 594.9 245.7 596.4 246.5 594.6 247.4 597.8 248.3 589.6 249.2 597.0 250.0 595.9 250.9 593.8 251.8 597.5 252.6 588.4 253.5 597.6 254.4 595.6 255.2 591.7 256.1 596.6 257.0 594.0 257.9 601.6 258.7 599.7 259.6 596.1 260.5 592.1 261.3 593.6 262.2 594.3 263.1 593.8 263.9 593.0 264.8 593.8 265.7 594.7 266.6 593.3 267.4 593.7 268.3 593.2 269.2 602.3 270.0 591.9 270.9 591.6 271.8 597.0 272.6 595.1 273.5 597.1 274.4 598.1 275.3 599.4 276.1 598.2 277.0 593.7 277.9 599.2 278.7 591.9 279.6 596.3 280.5 595.4 281.3 594.0 282.2 598.3 283.1 596.4 284.0 599.6 284.8 593.3 285.7 599.3 286.6 598.5 287.4 597.6 288.3 593.8 289.2 596.8 290.0 593.6 290.9 592.3 291.8 606.0 292.7 600.2 293.5 602.4 294.4 596.8 295.3 599.7 296.1 599.8 297.0 599.6 297.9 598.2 298.7 597.6 299.6 593.0 300.5 599.8 301.4 599.4 302.2 601.2 303.1 597.7 304.0 602.8 304.8 597.3 305.7 595.3 306.6 600.8 307.4 597.3 308.3 593.5 309.2 598.8 310.1 600.4 310.9 599.1 311.8 599.7 312.7 608.8 313.5 600.5 314.4 602.2 315.3 593.4 316.1 599.2 317.0 600.2 317.9 597.3 318.8 596.0 319.6 599.2 320.5 597.3 321.4 596.6 322.2 600.9 323.1 601.3 324.0 598.7 324.8 596.7 325.7 599.1 326.6 601.1 327.5 599.3 328.3 593.9 329.2 596.7 330.1 598.4 330.9 599.0 331.8 599.8 332.7 599.3 333.5 594.4 334.4 595.4 335.3 594.1 336.2 601.7 337.0 597.5 337.9 598.4 338.8 599.6 339.6 596.1 340.5 593.9 341.4 595.8 342.2 596.4 343.1 600.6 344.0 599.0 344.9 592.2 345.7 598.4 346.6 598.5 347.5 593.9 348.3 596.3 349.2 591.8 350.1 597.4 350.9 595.7 351.8 593.0 352.7 594.7 353.6 597.1 354.4 595.0 355.3 597.2 356.2 597.8 357.0 593.0 357.9 595.6 358.8 601.9 359.6 596.7 360.5 594.2 361.4 596.5 362.3 592.9 363.1 599.2 364.0 597.2 364.9 599.1 365.7 598.6 366.6 597.2 367.5 598.7 368.3 596.7 369.2 594.5 370.1 593.5 371.0 595.0 371.8 589.7 372.7 600.8 373.6 591.7 374.4 595.9 375.3 592.6 376.2 590.8 377.0 595.8 377.9 595.2 378.8 595.5 379.7 597.3 380.5 594.3 381.4 596.8 382.3 597.1 383.1 594.9 384.0 595.0 384.9 597.0 385.7 595.7 386.6 595.9 387.5 589.3 388.4 595.5 389.2 596.3 390.1 594.6 391.0 596.0 391.8 600.0 392.7 595.1 393.6 596.5 394.4 592.5 395.3 592.3 396.2 593.2 397.1 591.7 397.9 594.2 398.8 591.6 399.7 593.5 400.5 590.0 401.4 589.3 402.3 591.8 403.1 590.6 404.0 591.6 404.9 591.5 405.8 592.1 406.6 595.6 407.5 596.4 408.4 594.5 409.2 591.5 410.1 596.3 411.0 588.1 411.8 586.7 412.7 592.6 413.6 591.8 414.5 591.3 415.3 591.6 416.2 587.1 417.1 588.2 417.9 594.5 418.8 593.8 419.7 587.9 420.5 596.0 421.4 587.9 422.3 589.1 423.2 591.4 424.0 587.3 424.9 589.1 425.8 589.8 426.6 589.1 427.5 592.5 428.4 591.6 429.2 587.0 430.1 588.0 431.0 590.3 431.9 589.5 432.7 587.5 433.6 590.7 434.5 591.6 435.3 587.6 436.2 591.4 437.1 584.8 437.9 582.1 438.8 590.3 439.7 586.6 440.6 586.1 441.4 588.0 442.3 586.7 443.2 589.4 444.0 584.4 444.9 587.2 445.8 596.7 446.6 588.3 447.5 582.7 448.4 589.4 449.3 590.0 450.1 591.3 451.0 587.8 451.9 584.4 452.7 590.9 453.6 588.8 454.5 581.8 455.3 588.6 456.2 585.7 457.1 589.2 458.0 584.9 458.8 587.8 459.7 585.8 460.6 586.6 461.4 584.6 462.3 583.1 463.2 584.1 464.0 585.2 464.9 584.2 465.8 587.1 466.7 583.4 467.5 584.7 468.4 587.3 469.3 581.2 470.1 582.1 471.0 578.6 471.9 580.0 472.7 584.2 473.6 580.1 474.5 583.0 475.4 575.7 476.2 574.5 477.1 579.0 478.0 574.1 478.8 585.3 479.7 581.1 480.6 573.8 481.4 576.6 482.3 575.3 483.2 577.9 484.1 576.3 484.9 580.5 485.8 580.2 486.7 575.2 487.5 572.2 488.4 576.9 489.3 574.5 490.1 577.9 491.0 573.9 491.9 576.3 492.8 574.5 493.6 572.5 494.5 571.0 495.4 573.6 496.2 578.0 497.1 572.2 498.0 568.4 498.8 569.8 499.7 567.0 500.6 561.9 501.5 566.1 502.3 568.3 503.2 561.9 504.1 558.5 504.9 562.4 505.8 565.4 506.7 561.8 507.5 561.0 508.4 563.8 509.3 560.6 510.2 556.7 511.0 552.6 511.9 552.3 512.8 550.0 513.6 551.2 514.5 544.1 515.4 549.7 516.2 543.5 517.1 539.9 518.0 541.8 518.9 530.9 519.7 532.9 520.6 531.7 521.5 534.4 522.3 528.4 523.2 532.5 524.1 524.5 524.9 525.3 525.8 519.0 526.7 522.3 527.6 514.8 528.4 513.6 529.3 506.2 530.2 499.9 531.0 498.5 531.9 498.9 532.8 488.3 533.6 483.2 534.5 484.0 535.4 484.5 536.3 475.3 537.1 474.2 538.0 474.1 538.9 469.8 539.7 469.5 540.6 470.4 541.5 464.2 542.3 461.9 543.2 462.7 544.1 457.7 545.0 452.2 545.8 449.5 546.7 446.6 547.6 454.4 548.4 444.2 549.3 442.1 550.2 436.4 551.0 423.0 551.9 426.3 552.8 418.1 553.7 404.4 554.5 412.3 555.4 405.8 556.3 405.1 557.1 404.1 558.0 407.5 558.9 393.5 559.7 391.3 560.6 390.4 561.5 388.0 562.4 384.6 563.2 380.4 564.1 380.5 565.0 383.1 565.8 379.3 566.7 381.1 567.6 378.9 568.4 387.9 569.3 378.4 570.2 391.5 571.1 382.9 571.9 386.7 572.8 393.2 573.7 405.9 574.5 412.1 575.4 410.5 576.3 420.0 577.1 423.5 578.0 428.3 578.9 435.2 579.8 442.3 580.6 438.0 581.5 442.2 582.4 455.9 583.2 460.2 584.1 468.0 585.0 465.0 585.8 470.5 586.7 486.2 587.6 481.8 588.5 492.6 589.3 493.9 590.2 500.1 591.1 501.4 591.9 513.8 592.8 507.1 593.7 512.3 594.5 516.0 595.4 522.6 596.3 524.2 597.2 526.3 598.0 526.7 598.9 527.1 599.8 527.2 600.6 527.7 601.5 526.4 602.4 521.1 603.2 528.8 604.1 524.9 605.0 520.4 605.9 522.6 606.7 518.7 607.6 526.4 608.5 515.9 609.3 507.5 610.2 511.7 611.1 504.8 611.9 508.7 612.8 502.2 613.7 493.4 614.6 495.2 615.4 490.7 616.3 489.4 617.2 487.3 618.0 480.4 618.9 485.6 619.8 479.8 620.6 477.8 621.5 481.6 622.4 483.9 623.3 474.0 624.1 481.2 625.0 467.0 625.9 474.9 626.7 469.8 627.6 470.2 628.5 465.5 629.3 464.9 630.2 463.2 631.1 459.7 632.0 458.5 632.8 461.0 633.7 446.1 634.6 442.5 635.4 430.6 636.3 420.4 637.2 426.4 638.0 407.8 638.9 400.4 639.8 394.3 640.7 390.5 641.5 382.8 642.4 384.0 643.3 371.8 644.1 360.6 645.0 361.9 645.9 354.6 646.7 342.0 647.6 331.3 648.5 316.3 649.4 306.5 650.2 292.5 651.1 282.1 652.0 276.7 652.8 274.6 653.7 278.5 654.6 280.6 655.4 281.8 656.3 283.6 657.2 287.5 658.1 301.6 658.9 304.4 659.8 307.6 660.7 317.8 661.5 334.4 662.4 348.4 663.3 357.0 664.1 371.7 665.0 378.3 665.9 390.6 666.8 394.0 667.6 396.8 668.5 401.7 669.4 401.9 670.2 409.9 671.1 414.2 672.0 419.3 672.8 424.6 673.7 426.0 674.6 426.9 675.5 419.9 676.3 415.1 677.2 409.3 678.1 401.9 678.9 401.8 679.8 397.9 680.7 397.6 681.5 395.2 682.4 394.7 683.3 392.2 684.2 383.7 685.0 380.3 685.9 377.7 686.8 373.8 687.6 370.3 688.5 371.1 689.4 371.0 690.2 372.9 691.1 374.6 692.0 378.2 692.9 373.6 693.7 385.6 694.6 391.5 695.5 394.4 696.3 395.3 697.2 395.3 698.1 403.3 698.9 408.1 699.8 416.4 700.7 422.9 701.6 425.2 702.4 431.1 703.3 438.8 704.2 445.1 705.0 453.7 705.9 457.1 706.8 472.5 707.6 487.4 708.5 488.5 709.4 495.7 710.3 495.5 711.1 500.6 712.0 506.1 712.9 509.8 713.7 509.7 714.6 513.7 715.5 515.8 716.3 517.3 717.2 508.5 718.1 513.3 719.0 514.5 719.8 514.8 720.7 510.7 721.6 519.8 722.4 511.8 723.3 514.6 724.2 505.5 725.0 510.5 725.9 510.2 726.8 507.0 727.7 511.4 728.5 515.6 729.4 503.8 730.3 502.6 731.1 509.8 732.0 504.5 732.9 500.2 733.7 495.5 734.6 500.7 735.5 497.8 736.4 500.2 737.2 490.4 738.1 490.9 739.0 488.7 739.8 487.2 740.7 489.7 741.6 487.2 742.4 480.4 743.3 480.5 744.2 478.2 745.1 480.2 745.9 474.8 746.8 467.5 747.7 470.8 748.5 470.2 749.4 472.1 750.3 472.0 751.1 470.8 752.0 466.4 752.9 462.2 753.8 464.7 754.6 460.7 755.5 457.8 756.4 459.3 757.2 457.4 758.1 456.6 759.0 450.2 759.8 447.1 760.7 447.1 761.6 444.5 762.5 445.9 763.3 444.7 764.2 446.6 765.1 447.3 765.9 458.0 766.8 450.9 767.7 453.9 768.5 454.0 769.4 456.7 770.3 462.4 771.2 462.1 772.0 464.2 772.9 471.8 773.8 467.0 774.6 479.5 775.5 484.8 776.4 477.7 777.2 486.2 778.1 483.7 779.0 483.5 779.9 490.0 780.7 497.5 781.6 499.0 782.5 496.8 783.3 496.6 784.2 499.4 785.1 499.7 785.9 501.2 786.8 496.5 787.7 504.7 788.6 506.1 789.4 514.8 790.3 511.0 791.2 509.5 792.0 511.2 792.9 513.0 793.8 510.3 794.6 506.2 795.5 510.7 796.4 512.2 797.3 513.1 798.1 510.2 799.0 509.3 799.9 510.6 800.7 512.0 801.6 513.5 802.5 510.8 803.3 513.1 804.2 508.4 805.1 514.4 806.0 511.6 806.8 507.5 807.7 511.1 808.6 512.4 809.4 508.7 810.3 514.6 811.2 511.2 812.0 513.8 812.9 509.1 813.8 513.3 814.7 514.5 815.5 510.4 816.4 510.8 817.3 509.1 818.1 511.5 819.0 509.9 819.9 510.8 820.7 508.3 821.6 503.6 822.5 502.8 823.4 504.9 824.2 507.2 825.1 512.4 826.0 507.0 826.8 501.3 827.7 495.8 828.6 503.2 829.4 500.6 830.3 495.6 831.2 501.5 832.1 497.5 832.9 495.0 833.8 488.8 834.7 497.3 835.5 493.0 836.4 490.5 837.3 486.6 838.1 486.8 839.0 490.1 839.9 484.9 840.8 486.7 841.6 480.3 842.5 474.7 843.4 473.9 844.2 469.2 845.1 461.8 846.0 461.8 846.8 464.9 847.7 459.1 848.6 459.2 849.5 455.1 850.3 463.6 851.2 451.2 852.1 447.6 852.9 447.5 853.8 449.6 854.7 444.7 855.5 432.7 856.4 430.7 857.3 420.0 858.2 418.9 859.0 425.1 859.9 416.6 860.8 410.6 861.6 403.5 862.5 404.1 863.4 396.1 864.2 385.6 865.1 381.8 866.0 372.2 866.9 362.9 867.7 359.4 868.6 344.0 869.5 352.0 870.3 338.9 871.2 340.4 872.1 337.6 872.9 336.4 873.8 336.5 874.7 335.2 875.6 335.8 876.4 337.3 877.3 341.5 878.2 341.4 879.0 343.1 879.9 352.1 880.8 362.6 881.6 365.7 882.5 367.2 883.4 375.1 884.3 373.0 885.1 375.3 886.0 393.4 886.9 388.8 887.7 397.0 888.6 385.7 889.5 396.2 890.3 392.6 891.2 404.0 892.1 393.9 893.0 393.7 893.8 397.4 894.7 397.1 895.6 396.4 896.4 398.0 897.3 398.1 898.2 398.4 899.0 397.6 899.9 394.6 900.8 391.5 901.7 389.4 902.5 384.9 903.4 385.4 904.3 383.6 905.1 383.1 906.0 385.4 906.9 385.4 907.7 391.0 908.6 388.8 909.5 396.2 910.4 390.1 911.2 386.4 912.1 393.5 913.0 395.2 913.8 414.6 914.7 427.5 915.6 428.9 916.4 433.9 917.3 450.0 918.2 458.4 919.1 461.9 919.9 471.2 920.8 476.1 921.7 478.0 922.5 489.7 923.4 490.9 924.3 494.2 925.1 501.2 926.0 511.5 926.9 517.0 927.8 518.9 928.6 516.2 929.5 517.4 930.4 524.4 931.2 525.2 932.1 528.5 933.0 526.5 933.8 529.1 934.7 530.0 935.6 536.8 936.5 538.5 937.3 533.7 938.2 538.3 939.1 540.3 939.9 534.0 940.8 538.3 941.7 541.3 942.5 536.0 943.4 543.5 944.3 539.4 945.2 540.5 946.0 539.9 946.9 536.4 947.8 543.0 948.6 541.6 949.5 540.6 950.4 541.4 951.2 543.6 952.1 542.1 953.0 541.2 953.9 543.3 954.7 545.7 955.6 543.7 956.5 541.4 957.3 546.6 958.2 543.4 959.1 546.3 959.9 544.2 960.8 541.9 961.7 541.1 962.6 542.4 963.4 544.5 964.3 534.3 965.2 546.6 966.0 548.8 966.9 544.8 967.8 542.1 968.6 540.4 969.5 546.2 970.4 546.8 971.3 545.7 972.1 547.6 973.0 543.4 973.9 544.7 974.7 546.3 975.6 544.8 976.5 547.0 977.3 547.0 978.2 544.7 979.1 542.5 980.0 543.3 980.8 550.9 981.7 539.6 982.6 545.7 983.4 542.4 984.3 552.6 985.2 543.6 986.0 547.4 986.9 542.5 987.8 555.2 988.7 541.2 989.5 546.3 990.4 541.2 991.3 547.4 992.1 540.8 993.0 543.1 993.9 539.3 994.7 542.7 995.6 543.6 996.5 548.6 997.4 531.6 998.2 544.3 999.1 542.4 1000.0 540.0 1000.8 540.9 1001.7 542.4 1002.6 540.7 1003.4 540.3 1004.3 537.7 1005.2 538.5 1006.1 540.9 1006.9 536.2 1007.8 537.1 1008.7 538.5 1009.5 538.8 1010.4 538.5 1011.3 536.1 1012.1 529.8 1013.0 538.0 1013.9 538.2 1014.8 538.3 1015.6 535.1 1016.5 536.1 1017.4 532.1 1018.2 529.1 1019.1 531.7 1020.0 531.1 1020.8 534.8 1021.7 534.0 1022.6 529.7 1023.5 529.9 1024.3 531.0 1025.2 531.3 1026.1 535.4 1026.9 529.4 1027.8 534.9 1028.7 526.4 1029.5 528.6 1030.4 535.9 1031.3 531.9 1032.2 530.9 1033.0 532.4 1033.9 529.8 1034.8 530.7 1035.6 531.1 1036.5 531.1 1037.4 531.5 1038.2 528.5 1039.1 531.4 1040.0 528.0 1040.9 532.0 1041.7 529.6 1042.6 530.8 1043.5 530.8 1044.3 527.5 1045.2 528.1 1046.1 529.2 1046.9 530.9 1047.8 532.2 1048.7 528.8 1049.6 526.5 1050.4 529.0 1051.3 527.9 1052.2 530.0 1053.0 531.1 1053.9 533.2 1054.8 521.6 1055.6 525.2 1056.5 526.4 1057.4 529.1 1058.3 528.9 1059.1 527.1 1060.0 529.5 1060.9 525.7 1061.7 526.5 1062.6 529.0 1063.5 525.1 1064.3 533.8 1065.2 526.8 1066.1 524.0 1067.0 531.2 1067.8 524.6 1068.7 529.7 1069.6 531.0 1070.4 536.1 1071.3 542.2 1072.2 533.9 1073.0 530.0 1073.9 535.6 1074.8 537.7 1075.7 533.6 1076.5 538.4 1077.4 543.1 1078.3 540.6 1079.1 537.6 1080.0 539.2 1080.9 536.8 1081.7 541.3 1082.6 541.7 1083.5 548.5 1084.4 540.3 1085.2 540.9 1086.1 547.0 1087.0 548.9 1087.8 545.2 1088.7 549.1 1089.6 551.3 1090.4 552.2 1091.3 551.8 1092.2 553.0 1093.1 544.6 1093.9 555.1 1094.8 553.8 1095.7 551.5 1096.5 553.3 1097.4 554.1 1098.3 553.9 1099.1 555.4 1100.0 555.1 1100.9 552.2 1101.8 563.2 1102.6 558.2 1103.5 563.9 1104.4 556.8 1105.2 562.7 1106.1 557.8 1107.0 563.0 1107.8 561.4 1108.7 561.1 1109.6 558.6 1110.5 560.0 1111.3 563.5 1112.2 553.8 1113.1 557.9 1113.9 556.4 1114.8 557.5 1115.7 562.2 1116.5 563.0 1117.4 560.1 1118.3 564.1 1119.2 558.7 1120.0 559.2 1120.9 561.4 1121.8 562.3 1122.6 560.8 1123.5 558.0 1124.4 562.9 1125.2 566.2 1126.1 560.1 1127.0 561.3 1127.9 557.9 1128.7 561.2 1129.6 558.5 1130.5 561.7 1131.3 565.8 1132.2 562.7 1133.1 559.1 1133.9 563.6 1134.8 556.1 1135.7 564.8 1136.6 562.1 1137.4 558.0 1138.3 560.2 1139.2 558.5 1140.0 567.1 1140.9 562.8 1141.8 558.2 1142.6 557.9 1143.5 561.5 1144.4 558.2 1145.3 561.6 1146.1 561.9 1147.0 556.4 1147.9 562.4 1148.7 565.4 1149.6 561.3 1150.5 562.0 1151.3 558.5 1152.2 558.4 1153.1 561.2 1154.0 557.0 1154.8 554.7 1155.7 561.8 1156.6 557.2 1157.4 559.6 1158.3 559.2 1159.2 559.9 1160.0 560.3 1160.9 560.0 1161.8 557.4 1162.7 560.6 1163.5 557.0 1164.4 559.0 1165.3 556.0 1166.1 558.0 1167.0 555.1 1167.9 561.6 1168.7 558.4 1169.6 555.1 1170.5 551.9 1171.4 554.9 1172.2 560.8 1173.1 554.9 1174.0 559.7 1174.8 556.0 1175.7 555.5 1176.6 553.3 1177.4 557.2 1178.3 559.3 1179.2 558.4 1180.1 557.5 1180.9 552.7 1181.8 556.0 1182.7 552.2 1183.5 552.9 1184.4 556.4 1185.3 552.0 1186.1 556.5 1187.0 553.9 1187.9 559.0 1188.8 554.0 1189.6 555.8 1190.5 557.1 1191.4 555.6 1192.2 555.5 1193.1 548.2 1194.0 555.8 1194.8 548.0 1195.7 550.6 1196.6 545.1 1197.5 551.2 1198.3 550.0 1199.2 551.1 1200.1 551.2 1200.9 551.7 1201.8 551.2 1202.7 551.6 1203.5 552.4 1204.4 550.4 1205.3 552.4 1206.2 552.8 1207.0 548.7 1207.9 552.7 1208.8 559.1 1209.6 556.8 1210.5 555.0 1211.4 559.9 1212.2 559.8 1213.1 556.0 1214.0 559.7 1214.9 561.7 1215.7 562.9 1216.6 564.9 1217.5 564.8 1218.3 565.8 1219.2 565.0 1220.1 566.3 1220.9 566.8 1221.8 571.5 1222.7 569.9 1223.6 569.6 1224.4 574.4 1225.3 580.2 1226.2 573.9 1227.0 578.8 1227.9 574.7 1228.8 577.7 1229.6 580.6 1230.5 582.0 1231.4 585.6 1232.3 579.0 1233.1 581.2 1234.0 585.3 1234.9 585.7 1235.7 580.2 1236.6 583.0 1237.5 586.3 1238.3 587.3 1239.2 581.8 1240.1 585.8 1241.0 579.1 1241.8 588.4 1242.7 590.7 1243.6 583.3 1244.4 586.0 1245.3 583.0 1246.2 585.9 1247.0 588.8 1247.9 589.1 1248.8 588.8 1249.7 581.9 1250.5 585.7 1251.4 593.2 1252.3 588.8 1253.1 587.2 1254.0 589.1 1254.9 586.9 1255.7 589.0 1256.6 586.6 1257.5 586.9 1258.4 584.5 1259.2 593.6 1260.1 590.8 1261.0 590.6 1261.8 591.3 1262.7 588.7 1263.6 586.2 1264.4 590.5 1265.3 591.1 1266.2 590.7 1267.1 588.3 1267.9 585.3 1268.8 591.6 1269.7 590.6 1270.5 589.4 1271.4 589.1 1272.3 589.4 1273.1 588.4 1274.0 586.0 1274.9 589.8 1275.8 589.1 1276.6 591.3 1277.5 589.2 1278.4 591.5 1279.2 587.7 1280.1 592.3 1281.0 596.8 1281.8 591.1 1282.7 593.2 1283.6 594.1 1284.5 592.8 1285.3 592.7 1286.2 588.0 1287.1 590.1 1287.9 596.4 1288.8 593.0 1289.7 593.0 1290.5 597.6 1291.4 588.0 1292.3 595.3 1293.2 594.2 1294.0 587.3 1294.9 590.8 1295.8 593.5 1296.6 590.5 1297.5 590.3 1298.4 593.9 1299.2 591.8 1300.1 592.7 1301.0 591.7 1301.9 592.5 1302.7 592.8 1303.6 597.8 1304.5 593.0 1305.3 590.0 1306.2 592.8 1307.1 592.4 1307.9 600.5 1308.8 587.8 1309.7 593.4 1310.6 592.2 1311.4 595.5 1312.3 588.7 1313.2 588.0 1314.0 592.2 1314.9 593.4 1315.8 592.3 1316.6 592.8 1317.5 591.0 1318.4 593.7 1319.3 591.4 1320.1 589.7 1321.0 594.9 1321.9 588.7 1322.7 586.7 1323.6 589.9 1324.5 590.3 1325.3 590.7 1326.2 590.1 1327.1 591.9 1328.0 589.9 1328.8 588.5 1329.7 594.5 1330.6 590.3 1331.4 593.7 1332.3 591.2 1333.2 592.0 1334.0 597.3 1334.9 585.7 1335.8 595.5 1336.7 590.9 1337.5 593.0 1338.4 589.5 1339.3 590.7 1340.1 590.2 1341.0 587.7 1341.9 590.4 1342.7 595.4 1343.6 596.0 1344.5 594.3 1345.4 589.6 1346.2 590.1 1347.1 588.6 1348.0 581.7 1348.8 589.9 1349.7 588.5 1350.6 592.8 1351.4 593.0 1352.3 591.6 1353.2 588.1 1354.1 588.9 1354.9 594.0 1355.8 591.3 1356.7 594.7 1357.5 589.2 1358.4 593.0 1359.3 589.5 1360.1 589.1 1361.0 591.1 1361.9 588.4 1362.8 587.3 1363.6 594.0 1364.5 592.2 1365.4 589.1 1366.2 590.3 1367.1 593.3 1368.0 588.9 1368.8 583.8 1369.7 596.4 1370.6 586.3 1371.5 589.0 1372.3 584.4 1373.2 584.3 1374.1 591.1 1374.9 586.7 1375.8 591.9 1376.7 589.8 1377.5 589.7 1378.4 591.8 1379.3 591.9 1380.2 593.8 1381.0 586.4 1381.9 588.1 1382.8 591.9 1383.6 592.2 1384.5 588.7 1385.4 586.8 1386.2 590.1 1387.1 582.0 1388.0 585.6 1388.9 593.1 1389.7 586.6 1390.6 595.5 1391.5 590.3 1392.3 590.7 1393.2 597.2 1394.1 592.4 1394.9 589.1 1395.8 588.5 1396.7 588.2 1397.6 584.4 1398.4 590.9 1399.3 590.0 1400.2 588.1 1401.0 593.6 1401.9 588.3 1402.8 585.1 1403.6 586.9 1404.5 589.7 1405.4 590.7 1406.3 594.8 1407.1 588.7 1408.0 591.9 1408.9 592.5 1409.7 591.4 1410.6 590.5 1411.5 584.8 1412.3 588.7 1413.2 595.5 1414.1 590.2 1415.0 589.6 1415.8 586.5 1416.7 590.3 1417.6 594.3 1418.4 588.0 1419.3 587.2 1420.2 589.5 1421.0 588.3 1421.9 587.8 1422.8 595.4 1423.7 591.7 1424.5 585.7 1425.4 589.4 1426.3 593.4 1427.1 588.7 1428.0 591.7 1428.9 586.4 1429.7 590.9 1430.6 589.3 1431.5 591.0 1432.4 589.3 1433.2 587.7 1434.1 590.5 1435.0 590.6 1435.8 591.1 1436.7 585.7 1437.6 588.0 1438.4 588.8 1439.3 588.6 1440.2 588.4 1441.1 589.6 1441.9 593.0 1442.8 593.9 1443.7 592.4 1444.5 590.7 1445.4 580.5 1446.3 587.5 1447.1 590.7 1448.0 586.8 1448.9 592.2 1449.8 587.4 1450.6 589.6 1451.5 588.0 1452.4 589.9 1453.2 585.3 1454.1 588.3 1455.0 586.8 1455.8 586.1 1456.7 584.7 1457.6 591.7 1458.5 586.0 1459.3 592.0 1460.2 588.6 1461.1 590.2 1461.9 588.9 1462.8 588.8 1463.7 585.5 1464.5 596.0 1465.4 591.6 1466.3 591.4 1467.2 582.8 1468.0 586.9 1468.9 586.7 1469.8 589.1 1470.6 586.7 1471.5 590.1 1472.4 588.6 1473.2 590.4 1474.1 591.2 1475.0 585.8 1475.9 586.3 1476.7 585.3 1477.6 589.9 1478.5 587.3 1479.3 586.3 1480.2 583.9 1481.1 588.2 1481.9 587.1 1482.8 587.4 1483.7 586.1 1484.6 583.1 1485.4 590.4 1486.3 587.0 1487.2 587.7 1488.0 585.1 1488.9 590.9 1489.8 585.3 1490.6 586.6 1491.5 585.8 1492.4 585.6 1493.3 591.1 1494.1 588.2 1495.0 587.1 1495.9 589.9 1496.7 590.0 1497.6 591.3 1498.5 590.1 1499.3 592.7 1500.2 588.0 1501.1 590.3 1502.0 594.8 1502.8 595.4 1503.7 588.7 1504.6 594.4 1505.4 593.3 1506.3 596.4 1507.2 590.6 1508.0 594.3 1508.9 595.5 1509.8 589.7 1510.7 591.5 1511.5 595.7 1512.4 592.6 1513.3 595.4 1514.1 593.5 1515.0 589.4 1515.9 593.2 1516.7 593.9 1517.6 591.3 1518.5 595.4 1519.4 586.9 1520.2 592.4 1521.1 591.6 1522.0 590.2 1522.8 586.0 1523.7 586.8 1524.6 588.8 1525.4 591.5 1526.3 590.3 1527.2 591.3 1528.1 591.0 1528.9 590.3 1529.8 592.0 1530.7 593.5 1531.5 587.2 1532.4 591.8 1533.3 586.6 1534.1 600.0 1535.0 588.3 1535.9 589.6 1536.8 592.8 1537.6 592.1 1538.5 594.1 1539.4 594.0 1540.2 589.3 1541.1 595.3 1542.0 587.0 1542.8 589.1 1543.7 592.1 1544.6 579.5 1545.5 587.9 1546.3 588.9 1547.2 591.6 1548.1 587.5 1548.9 591.6 1549.8 586.4 1550.7 591.8 1551.5 591.1 1552.4 587.7 1553.3 588.2 1554.2 588.5 1555.0 587.9 1555.9 587.4 1556.8 592.5 1557.6 590.0 1558.5 590.7 1559.4 584.7 1560.2 588.7 1561.1 591.8 1562.0 589.2 1562.9 587.4 1563.7 588.6 1564.6 591.1 1565.5 588.5 1566.3 583.3 1567.2 586.9 1568.1 589.4 1568.9 584.9 1569.8 589.1 1570.7 590.4 1571.6 595.2 1572.4 593.2 1573.3 590.4 1574.2 584.7 1575.0 590.3 1575.9 585.7 1576.8 586.8 1577.6 592.7 1578.5 587.7 1579.4 591.7 1580.3 590.5 1581.1 592.5 1582.0 589.7 1582.9 589.8 1583.7 594.4 1584.6 592.3 1585.5 591.5 1586.3 590.7 1587.2 592.2 1588.1 590.5 1589.0 592.5 1589.8 590.8 1590.7 586.6 1591.6 586.8 1592.4 589.5 1593.3 596.7 1594.2 595.2 1595.0 590.5 1595.9 589.5 1596.8 590.4 1597.7 591.2 1598.5 595.1 1599.4 590.5 1600.3 588.1 1601.1 590.8 1602.0 587.0 1602.9 596.2 1603.7 591.9 1604.6 592.6 1605.5 592.3 1606.4 587.3 1607.2 593.2 1608.1 593.9 1609.0 591.5 1609.8 593.6 1610.7 591.8 1611.6 592.4 1612.4 596.1 1613.3 591.7 1614.2 594.1 1615.1 593.0 1615.9 592.8 1616.8 591.4 1617.7 590.9 1618.5 592.8 1619.4 595.9 1620.3 593.7 1621.1 595.9 1622.0 592.7 1622.9 588.5 1623.8 595.7 1624.6 592.4 1625.5 595.5 1626.4 594.5 1627.2 594.7 1628.1 593.6 1629.0 584.5 1629.8 594.5 1630.7 593.0 1631.6 594.2 1632.5 594.5 1633.3 593.0 1634.2 593.8 1635.1 588.1 1635.9 592.2 1636.8 593.8 1637.7 593.6 1638.5 589.4 1639.4 586.8 1640.3 590.0 1641.2 591.7 1642.0 592.3 1642.9 595.8 1643.8 594.7 1644.6 588.2 1645.5 593.0 1646.4 590.2 1647.2 593.3 1648.1 589.4 1649.0 594.6 1649.9 589.6 1650.7 590.1 1651.6 588.6 1652.5 593.2 1653.3 591.2 1654.2 592.1 1655.1 592.9 1655.9 588.7 1656.8 595.3 1657.7 592.9 1658.6 591.5 1659.4 590.8 1660.3 590.1 1661.2 589.4 1662.0 593.2 1662.9 591.3 1663.8 590.7 1664.6 589.2 1665.5 591.4 1666.4 596.1 1667.3 591.9 1668.1 585.3 1669.0 584.5 1669.9 592.5 1670.7 586.9 1671.6 591.3 1672.5 592.2 1673.3 592.4 1674.2 595.8 1675.1 589.4 1676.0 591.1 1676.8 588.9 1677.7 587.0 1678.6 588.4 1679.4 594.3 1680.3 594.4 1681.2 588.3 1682.0 592.6 1682.9 589.9 1683.8 592.8 1684.7 588.0 1685.5 591.2 1686.4 591.0 1687.3 588.0 1688.1 588.0 1689.0 589.0 1689.9 590.3 1690.7 594.8 1691.6 594.6 1692.5 594.6 1693.4 591.9 1694.2 592.8 1695.1 587.6 1696.0 590.4 1696.8 593.2 1697.7 591.2 1698.6 588.4 1699.4 591.5 1700.3 590.7 1701.2 590.6 1702.1 588.7 1702.9 591.9 1703.8 589.6 1704.7 588.0 1705.5 590.0 1706.4 591.5 1707.3 593.6 1708.1 593.0 1709.0 585.2 1709.9 592.8 1710.8 591.4 1711.6 591.1 1712.5 593.6 1713.4 594.4 1714.2 591.6 1715.1 589.5 1716.0 587.5 1716.8 590.3 1717.7 590.8 1718.6 587.9 1719.5 594.3 1720.3 593.8 1721.2 592.0 1722.1 594.7 1722.9 592.0 1723.8 588.5 1724.7 591.9 1725.5 594.9 1726.4 588.7 1727.3 585.9 1728.2 591.9 1729.0 584.5 1729.9 586.4 1730.8 590.0 1731.6 587.8 1732.5 593.4 1733.4 588.6 1734.2 590.2 1735.1 591.3 1736.0 588.2 1736.9 589.2 1737.7 582.7 1738.6 592.9 1739.5 587.4 1740.3 586.1 1741.2 584.9 1742.1 586.9 1742.9 584.4 1743.8 586.3 1744.7 583.6 1745.6 581.2 1746.4 582.7 1747.3 582.3 1748.2 585.3 1749.0 584.3 1749.9 582.3 1750.8 584.3 1751.6 581.4 1752.5 582.7 1753.4 581.7 1754.3 583.4 1755.1 579.5 1756.0 581.2 1756.9 581.2 1757.7 577.9 1758.6 580.7 1759.5 580.1 1760.3 582.5 1761.2 576.4 1762.1 575.1 1763.0 574.2 1763.8 579.0 1764.7 576.5 1765.6 574.8 1766.4 577.8 1767.3 579.2 1768.2 581.6 1769.0 579.4 1769.9 573.5 1770.8 579.0 1771.7 572.1 1772.5 574.9 1773.4 575.3 1774.3 568.2 1775.1 572.2 1776.0 571.4 1776.9 576.8 1777.7 568.1 1778.6 571.3 1779.5 568.0 1780.4 568.0 1781.2 564.4 1782.1 569.3 1783.0 569.4 1783.8 568.7 1784.7 559.6 1785.6 558.5 1786.4 563.2 1787.3 566.2 1788.2 566.1 1789.1 561.1 1789.9 559.2 1790.8 565.7 1791.7 564.3 1792.5 557.4 1793.4 558.8 1794.3 558.1 1795.1 564.0 1796.0 559.3 1796.9 560.1 1797.8 553.5 1798.6 556.5 1799.5 554.9 1800.4 555.2 1801.2 555.6 1802.1 553.8 1803.0 550.5 1803.8 556.9 1804.7 550.4 1805.6 550.7 1806.5 547.5 1807.3 554.1 1808.2 553.6 1809.1 551.0 1809.9 550.4 1810.8 553.5 1811.7 552.1 1812.5 549.9 1813.4 554.4 1814.3 555.7 1815.2 554.1 1816.0 555.6 1816.9 553.7 1817.8 557.7 1818.6 556.0 1819.5 552.5 1820.4 559.2 1821.2 555.4 1822.1 553.2 1823.0 553.3 1823.9 555.0 1824.7 550.6 1825.6 554.9 1826.5 556.3 1827.3 553.9 1828.2 556.5 1829.1 556.9 1829.9 553.2 1830.8 560.7 1831.7 562.5 1832.6 563.7 1833.4 567.0 1834.3 564.1 1835.2 564.2 1836.0 566.7 1836.9 571.3 1837.8 573.3 1838.6 567.0 1839.5 571.7 1840.4 570.6 1841.3 573.6 1842.1 561.4 1843.0 571.8 1843.9 568.2 1844.7 565.0 1845.6 575.5 1846.5 572.2 1847.3 578.8 1848.2 577.8 1849.1 579.5 1850.0 578.6 1850.8 575.2 1851.7 577.9 1852.6 572.9 1853.4 574.1 1854.3 579.2 1855.2 583.1 1856.0 579.0 1856.9 575.5 1857.8 578.8 1858.7 581.0 1859.5 582.5 1860.4 580.4 1861.3 585.1 1862.1 583.6 1863.0 581.9 1863.9 580.1 1864.7 588.1 1865.6 580.4 1866.5 581.1 1867.4 579.6 1868.2 583.1 1869.1 577.8 1870.0 584.4 1870.8 578.6 1871.7 585.1 1872.6 579.5 1873.4 580.1 1874.3 581.7 1875.2 584.5 1876.1 583.5 1876.9 581.5 1877.8 583.9 1878.7 586.2 1879.5 579.8 1880.4 588.4 1881.3 585.0 1882.1 577.9 1883.0 585.8 1883.9 585.0 1884.8 584.4 1885.6 584.9 1886.5 584.8 1887.4 588.2 1888.2 586.8 1889.1 588.1 1890.0 585.9 1890.8 590.2 1891.7 586.3 1892.6 588.5 1893.5 586.5 1894.3 586.7 1895.2 589.6 1896.1 591.0 1896.9 587.6 1897.8 588.0 1898.7 586.6 1899.5 589.4 1900.4 588.7 1901.3 590.1 1902.2 588.4 1903.0 587.9 1903.9 590.3 1904.8 587.6 1905.6 590.0 1906.5 590.8 1907.4 592.1 1908.2 588.6 1909.1 588.9 1910.0 590.7 1910.9 588.6 1911.7 589.8 1912.6 588.8 1913.5 588.3 1914.3 586.5 1915.2 588.9 1916.1 590.0 1916.9 589.2 1917.8 587.9 1918.7 589.2 1919.6 592.6 1920.4 588.6 1921.3 587.0 1922.2 593.2 1923.0 587.4 1923.9 592.7 1924.8 590.3 1925.6 585.2 1926.5 588.4 1927.4 588.3 1928.3 588.3 1929.1 588.2 1930.0 590.7 1930.9 589.9 1931.7 592.7 1932.6 588.5 1933.5 588.9 1934.3 590.9 1935.2 588.9 1936.1 587.7 1937.0 590.1 1937.8 586.6 1938.7 586.3 1939.6 588.1 1940.4 590.8 1941.3 591.6 1942.2 586.8 1943.0 588.0 1943.9 590.4 1944.8 590.2 1945.7 587.4 1946.5 591.9 1947.4 588.9 1948.3 589.4 1949.1 588.1 1950.0 592.8 1950.9 592.8 1951.7 589.4 1952.6 593.4 1953.5 592.9 1954.4 592.1 1955.2 590.4 1956.1 592.8 1957.0 588.9 1957.8 589.4 1958.7 590.2 1959.6 592.5 1960.4 594.4 1961.3 586.3 1962.2 591.0 1963.1 589.4 1963.9 592.8 1964.8 588.1 1965.7 596.4 1966.5 590.4 1967.4 595.7 1968.3 588.9 1969.1 593.6 1970.0 596.6 1970.9 595.8 1971.8 589.7 1972.6 589.7 1973.5 588.8 1974.4 594.2 1975.2 589.2 1976.1 598.0 1977.0 596.8 1977.8 597.2 1978.7 592.3 1979.6 593.2 1980.5 593.8 1981.3 590.2 1982.2 590.3 1983.1 594.4 1983.9 593.1 1984.8 594.0 1985.7 591.2 1986.5 595.9 1987.4 597.9 1988.3 595.5 1989.2 593.4 1990.0 596.8 1990.9 596.9 1991.8 595.6 1992.6 592.6 1993.5 590.1 1994.4 599.9 1995.2 596.5 1996.1 594.4 1997.0 593.6 1997.9 589.5 1998.7 599.9 1999.6 595.5 2000.5 596.5 2001.3 595.5 2002.2 595.7 2003.1 597.3 2003.9 592.7 2004.8 594.5 2005.7 597.6 2006.6 599.3 2007.4 597.4 2008.3 597.8 2009.2 594.4 2010.0 595.0 2010.9 597.5 2011.8 597.2 2012.6 596.5 2013.5 597.0 2014.4 593.0 2015.3 593.2 2016.1 598.9 2017.0 597.4 2017.9 595.4 2018.7 598.2 2019.6 606.4 2020.5 596.1 2021.3 598.7 2022.2 597.6 2023.1 595.6 2024.0 596.0 2024.8 600.8 2025.7 596.7 2026.6 593.7 2027.4 602.6 2028.3 596.7 2029.2 600.3 2030.0 599.1 2030.9 597.7 2031.8 602.9 2032.7 596.3 2033.5 599.4 2034.4 599.9 2035.3 595.1 2036.1 596.8 2037.0 601.0 2037.9 604.1 2038.7 600.8 2039.6 593.4 2040.5 602.0 2041.4 595.2 2042.2 597.1 2043.1 599.3 2044.0 599.9 2044.8 599.2 2045.7 598.9 2046.6 605.5 2047.4 594.0 2048.3 600.5 2049.2 602.4 2050.1 601.6 2050.9 596.0 2051.8 603.4 2052.7 603.3 2053.5 598.1 2054.4 598.6 2055.3 603.5 2056.1 600.7 2057.0 597.9 2057.9 601.6 2058.8 598.5 2059.6 598.0 2060.5 595.5 2061.4 601.5 2062.2 598.7 2063.1 598.3 2064.0 598.9 2064.8 602.7 2065.7 600.6 2066.6 603.1 2067.5 600.6 2068.3 603.7 2069.2 605.1 2070.1 601.1 2070.9 601.0 2071.8 597.2 2072.7 599.9 2073.5 607.8 2074.4 604.0 2075.3 595.0 2076.2 598.9 2077.0 599.9 2077.9 601.5 2078.8 601.7 2079.6 601.4 2080.5 602.5 2081.4 601.6 2082.2 600.2 2083.1 602.2 2084.0 591.5 2084.9 599.5 2085.7 601.4 2086.6 603.3 2087.5 604.1 2088.3 605.0 2089.2 604.8 2090.1 602.5 2090.9 602.4 2091.8 603.4 2092.7 600.9 2093.6 601.1 2094.4 602.7 2095.3 599.6 2096.2 602.7 2097.0 603.0 2097.9 605.8 2098.8 599.4 2099.6 601.0 2100.5 605.4 2101.4 601.1 2102.3 603.3 2103.1 599.8 2104.0 605.8 2104.9 599.5 2105.7 601.4 2106.6 600.8 2107.5 605.7 2108.3 603.1 2109.2 598.6 2110.1 606.9 2111.0 599.3 2111.8 603.5 2112.7 605.2 2113.6 601.7 2114.4 601.4 2115.3 599.9 2116.2 599.3 2117.0 609.4 2117.9 607.3" fill="none" stroke="#ff0000" stroke-width="4.6" stroke-linejoin="round"/>
<path d="M166.5 1385.5 167.4 1382.5 168.2 1381.7 169.1 1377.3 170.0 1381.0 170.9 1380.9 171.7 1381.6 172.6 1380.5 173.5 1381.9 174.3 1380.9 175.2 1379.1 176.1 1384.2 176.9 1384.2 177.8 1386.2 178.7 1382.5 179.6 1381.5 180.4 1381.2 181.3 1379.0 182.2 1384.8 183.0 1380.1 183.9 1380.0 184.8 1382.3 185.6 1386.2 186.5 1383.4 187.4 1380.5 188.3 1381.3 189.1 1385.2 190.0 1382.6 190.9 1380.2 191.7 1382.5 192.6 1384.7 193.5 1387.5 194.3 1380.3 195.2 1381.7 196.1 1381.3 197.0 1377.6 197.8 1381.0 198.7 1380.8 199.6 1385.6 200.4 1382.8 201.3 1379.4 202.2 1384.6 203.0 1382.3 203.9 1376.8 204.8 1381.8 205.7 1381.8 206.5 1381.1 207.4 1383.2 208.3 1378.0 209.1 1382.5 210.0 1385.4 210.9 1385.0 211.7 1385.6 212.6 1387.2 213.5 1386.5 214.4 1380.6 215.2 1385.0 216.1 1378.9 217.0 1381.7 217.8 1378.8 218.7 1385.5 219.6 1386.1 220.4 1382.7 221.3 1387.1 222.2 1381.6 223.1 1383.4 223.9 1383.4 224.8 1380.7 225.7 1384.1 226.5 1387.5 227.4 1379.4 228.3 1385.1 229.1 1382.8 230.0 1387.1 230.9 1384.2 231.8 1384.6 232.6 1384.6 233.5 1384.0 234.4 1379.9 235.2 1386.2 236.1 1380.0 237.0 1383.6 237.8 1384.5 238.7 1381.1 239.6 1383.4 240.5 1385.6 241.3 1382.9 242.2 1380.9 243.1 1376.3 243.9 1379.4 244.8 1381.5 245.7 1381.6 246.5 1380.6 247.4 1383.6 248.3 1381.4 249.2 1382.4 250.0 1384.1 250.9 1380.6 251.8 1381.4 252.6 1387.3 253.5 1384.4 254.4 1379.4 255.2 1382.1 256.1 1383.5 257.0 1385.0 257.9 1382.4 258.7 1380.8 259.6 1380.3 260.5 1383.4 261.3 1383.0 262.2 1380.6 263.1 1381.3 263.9 1380.7 264.8 1383.3 265.7 1380.0 266.6 1382.6 267.4 1383.4 268.3 1382.5 269.2 1379.5 270.0 1384.4 270.9 1379.7 271.8 1382.2 272.6 1379.5 273.5 1377.2 274.4 1381.6 275.3 1381.7 276.1 1380.9 277.0 1381.6 277.9 1379.5 278.7 1379.2 279.6 1380.5 280.5 1385.2 281.3 1382.7 282.2 1379.6 283.1 1382.0 284.0 1379.6 284.8 1379.0 285.7 1382.6 286.6 1379.4 287.4 1376.7 288.3 1377.2 289.2 1380.7 290.0 1380.7 290.9 1383.3 291.8 1378.7 292.7 1382.0 293.5 1381.3 294.4 1379.9 295.3 1382.1 296.1 1381.3 297.0 1378.1 297.9 1382.5 298.7 1375.5 299.6 1380.1 300.5 1379.9 301.4 1380.8 302.2 1378.1 303.1 1379.7 304.0 1379.4 304.8 1381.9 305.7 1377.7 306.6 1379.7 307.4 1378.8 308.3 1376.4 309.2 1385.5 310.1 1379.0 310.9 1375.7 311.8 1382.3 312.7 1376.5 313.5 1379.7 314.4 1380.7 315.3 1377.1 316.1 1377.5 317.0 1377.1 317.9 1378.0 318.8 1374.4 319.6 1375.1 320.5 1377.5 321.4 1380.1 322.2 1379.1 323.1 1381.5 324.0 1378.9 324.8 1376.0 325.7 1376.7 326.6 1372.1 327.5 1374.5 328.3 1374.2 329.2 1377.1 330.1 1377.8 330.9 1374.8 331.8 1374.6 332.7 1372.2 333.5 1375.4 334.4 1376.1 335.3 1376.4 336.2 1373.4 337.0 1379.7 337.9 1377.7 338.8 1374.6 339.6 1373.4 340.5 1373.8 341.4 1374.7 342.2 1374.2 343.1 1375.3 344.0 1375.8 344.9 1377.1 345.7 1376.5 346.6 1373.4 347.5 1374.5 348.3 1372.5 349.2 1372.0 350.1 1377.7 350.9 1372.0 351.8 1377.7 352.7 1372.1 353.6 1373.4 354.4 1375.3 355.3 1372.7 356.2 1373.5 357.0 1371.9 357.9 1371.2 358.8 1371.9 359.6 1370.6 360.5 1375.9 361.4 1371.6 362.3 1375.9 363.1 1361.6 364.0 1371.7 364.9 1372.9 365.7 1370.8 366.6 1374.0 367.5 1372.8 368.3 1370.5 369.2 1372.1 370.1 1377.6 371.0 1371.5 371.8 1371.5 372.7 1369.6 373.6 1370.9 374.4 1367.4 375.3 1369.8 376.2 1376.0 377.0 1372.6 377.9 1371.4 378.8 1372.4 379.7 1374.1 380.5 1370.9 381.4 1374.3 382.3 1371.7 383.1 1369.4 384.0 1373.0 384.9 1363.1 385.7 1367.1 386.6 1368.9 387.5 1365.9 388.4 1367.5 389.2 1366.2 390.1 1365.9 391.0 1373.7 391.8 1368.5 392.7 1366.6 393.6 1369.7 394.4 1365.7 395.3 1368.2 396.2 1366.7 397.1 1369.5 397.9 1361.9 398.8 1366.9 399.7 1365.1 400.5 1361.8 401.4 1366.9 402.3 1362.0 403.1 1367.8 404.0 1364.9 404.9 1365.1 405.8 1363.4 406.6 1365.1 407.5 1355.5 408.4 1362.6 409.2 1360.7 410.1 1362.6 411.0 1361.6 411.8 1362.9 412.7 1359.1 413.6 1365.3 414.5 1366.2 415.3 1359.8 416.2 1360.0 417.1 1360.4 417.9 1362.5 418.8 1363.7 419.7 1355.8 420.5 1356.8 421.4 1355.3 422.3 1354.8 423.2 1353.0 424.0 1357.4 424.9 1353.2 425.8 1359.2 426.6 1357.3 427.5 1352.0 428.4 1350.0 429.2 1352.0 430.1 1356.5 431.0 1350.5 431.9 1348.4 432.7 1351.5 433.6 1352.1 434.5 1349.2 435.3 1356.9 436.2 1350.8 437.1 1351.7 437.9 1347.6 438.8 1349.4 439.7 1348.9 440.6 1343.5 441.4 1349.6 442.3 1344.3 443.2 1348.5 444.0 1344.8 444.9 1353.3 445.8 1349.0 446.6 1350.2 447.5 1350.2 448.4 1344.5 449.3 1342.0 450.1 1346.7 451.0 1349.6 451.9 1347.4 452.7 1348.9 453.6 1349.1 454.5 1342.8 455.3 1347.0 456.2 1350.9 457.1 1344.2 458.0 1340.1 458.8 1344.0 459.7 1342.9 460.6 1344.4 461.4 1340.5 462.3 1342.2 463.2 1335.6 464.0 1342.5 464.9 1343.5 465.8 1342.0 466.7 1334.1 467.5 1337.8 468.4 1328.7 469.3 1336.1 470.1 1334.4 471.0 1331.3 471.9 1333.9 472.7 1332.7 473.6 1334.1 474.5 1331.5 475.4 1331.2 476.2 1325.2 477.1 1326.7 478.0 1327.9 478.8 1329.4 479.7 1328.2 480.6 1331.5 481.4 1325.0 482.3 1326.0 483.2 1326.6 484.1 1324.7 484.9 1326.6 485.8 1322.3 486.7 1326.6 487.5 1321.3 488.4 1324.1 489.3 1320.2 490.1 1323.1 491.0 1314.8 491.9 1318.7 492.8 1315.3 493.6 1316.1 494.5 1317.5 495.4 1310.4 496.2 1308.6 497.1 1308.0 498.0 1309.6 498.8 1302.3 499.7 1305.6 500.6 1300.1 501.5 1298.5 502.3 1298.7 503.2 1298.8 504.1 1294.3 504.9 1293.0 505.8 1292.6 506.7 1290.4 507.5 1282.6 508.4 1286.9 509.3 1286.6 510.2 1287.6 511.0 1288.2 511.9 1282.4 512.8 1278.5 513.6 1272.9 514.5 1272.5 515.4 1270.9 516.2 1268.4 517.1 1258.8 518.0 1258.0 518.9 1255.8 519.7 1254.8 520.6 1247.0 521.5 1240.3 522.3 1235.3 523.2 1231.1 524.1 1224.3 524.9 1220.7 525.8 1212.3 526.7 1201.8 527.6 1193.7 528.4 1180.2 529.3 1173.8 530.2 1162.9 531.0 1155.4 531.9 1150.1 532.8 1137.8 533.6 1123.8 534.5 1119.8 535.4 1109.8 536.3 1099.3 537.1 1092.7 538.0 1087.7 538.9 1077.3 539.7 1057.0 540.6 1047.9 541.5 1035.2 542.3 1014.7 543.2 1005.4 544.1 993.5 545.0 983.2 545.8 966.3 546.7 959.6 547.6 953.9 548.4 944.2 549.3 934.3 550.2 913.3 551.0 902.1 551.9 890.3 552.8 878.8 553.7 873.8 554.5 872.9 555.4 877.8 556.3 883.8 557.1 891.8 558.0 898.3 558.9 903.5 559.7 916.5 560.6 923.8 561.5 932.6 562.4 951.7 563.2 963.5 564.1 981.5 565.0 1002.1 565.8 1022.8 566.7 1048.1 567.6 1072.7 568.4 1078.6 569.3 1093.7 570.2 1101.4 571.1 1112.8 571.9 1128.1 572.8 1134.6 573.7 1138.1 574.5 1147.5 575.4 1152.6 576.3 1160.2 577.1 1166.9 578.0 1173.4 578.9 1182.6 579.8 1188.2 580.6 1191.8 581.5 1193.7 582.4 1193.8 583.2 1200.6 584.1 1201.1 585.0 1208.9 585.8 1210.5 586.7 1213.3 587.6 1212.4 588.5 1210.3 589.3 1220.0 590.2 1222.8 591.1 1217.2 591.9 1223.6 592.8 1228.2 593.7 1225.6 594.5 1228.8 595.4 1228.1 596.3 1227.6 597.2 1229.7 598.0 1228.9 598.9 1228.0 599.8 1228.9 600.6 1222.6 601.5 1232.7 602.4 1223.7 603.2 1227.8 604.1 1225.6 605.0 1228.4 605.9 1228.7 606.7 1223.8 607.6 1228.2 608.5 1225.2 609.3 1224.4 610.2 1226.0 611.1 1224.4 611.9 1225.5 612.8 1230.9 613.7 1228.6 614.6 1232.8 615.4 1232.1 616.3 1227.9 617.2 1225.9 618.0 1229.6 618.9 1232.3 619.8 1231.6 620.6 1229.2 621.5 1234.1 622.4 1226.2 623.3 1227.2 624.1 1230.7 625.0 1235.9 625.9 1230.5 626.7 1226.0 627.6 1229.8 628.5 1229.4 629.3 1229.4 630.2 1224.9 631.1 1222.9 632.0 1223.9 632.8 1222.9 633.7 1223.9 634.6 1222.7 635.4 1212.1 636.3 1209.9 637.2 1208.3 638.0 1204.9 638.9 1204.2 639.8 1201.5 640.7 1198.0 641.5 1198.2 642.4 1190.7 643.3 1185.4 644.1 1180.7 645.0 1178.8 645.9 1175.1 646.7 1168.9 647.6 1172.3 648.5 1166.9 649.4 1161.0 650.2 1155.3 651.1 1148.6 652.0 1145.5 652.8 1148.0 653.7 1130.2 654.6 1130.4 655.4 1124.9 656.3 1114.4 657.2 1102.2 658.1 1092.8 658.9 1072.9 659.8 1062.3 660.7 1045.4 661.5 1014.4 662.4 990.9 663.3 976.4 664.1 961.6 665.0 946.0 665.9 927.3 666.8 907.0 667.6 887.1 668.5 870.3 669.4 848.5 670.2 821.4 671.1 801.5 672.0 772.3 672.8 737.2 673.7 711.5 674.6 691.7 675.5 676.9 676.3 678.9 677.2 689.0 678.1 702.0 678.9 714.8 679.8 725.7 680.7 740.9 681.5 759.9 682.4 771.9 683.3 798.8 684.2 811.4 685.0 842.6 685.9 870.6 686.8 902.1 687.6 929.3 688.5 967.7 689.4 995.6 690.2 1036.1 691.1 1071.5 692.0 1083.2 692.9 1103.7 693.7 1116.9 694.6 1125.8 695.5 1135.3 696.3 1141.2 697.2 1153.6 698.1 1158.7 698.9 1163.7 699.8 1167.0 700.7 1175.5 701.6 1180.6 702.4 1181.7 703.3 1186.4 704.2 1193.0 705.0 1194.8 705.9 1194.1 706.8 1195.9 707.6 1198.1 708.5 1201.6 709.4 1204.1 710.3 1205.5 711.1 1205.1 712.0 1205.3 712.9 1203.5 713.7 1203.6 714.6 1200.5 715.5 1199.6 716.3 1194.2 717.2 1193.0 718.1 1189.6 719.0 1196.8 719.8 1187.5 720.7 1183.1 721.6 1177.8 722.4 1175.3 723.3 1174.9 724.2 1174.0 725.0 1160.6 725.9 1156.3 726.8 1151.5 727.7 1142.5 728.5 1128.6 729.4 1128.3 730.3 1122.9 731.1 1108.8 732.0 1107.0 732.9 1102.0 733.7 1094.8 734.6 1083.1 735.5 1083.5 736.4 1069.7 737.2 1056.4 738.1 1052.8 739.0 1038.3 739.8 1038.1 740.7 1026.4 741.6 1028.2 742.4 1020.7 743.3 1016.9 744.2 1008.7 745.1 993.7 745.9 977.9 746.8 981.9 747.7 987.4 748.5 999.2 749.4 1010.1 750.3 1018.6 751.1 1026.5 752.0 1042.1 752.9 1038.1 753.8 1047.4 754.6 1053.3 755.5 1069.2 756.4 1066.0 757.2 1088.6 758.1 1092.9 759.0 1098.5 759.8 1111.5 760.7 1123.1 761.6 1132.6 762.5 1139.4 763.3 1148.7 764.2 1152.7 765.1 1158.7 765.9 1158.4 766.8 1171.0 767.7 1177.1 768.5 1177.2 769.4 1177.0 770.3 1182.2 771.2 1194.2 772.0 1190.9 772.9 1193.8 773.8 1196.1 774.6 1202.9 775.5 1201.8 776.4 1203.4 777.2 1203.8 778.1 1209.9 779.0 1215.1 779.9 1213.8 780.7 1218.5 781.6 1218.2 782.5 1219.7 783.3 1221.2 784.2 1222.0 785.1 1225.9 785.9 1225.5 786.8 1223.6 787.7 1226.6 788.6 1227.0 789.4 1229.4 790.3 1229.4 791.2 1230.9 792.0 1226.5 792.9 1232.3 793.8 1235.6 794.6 1229.0 795.5 1237.8 796.4 1234.8 797.3 1234.1 798.1 1230.3 799.0 1239.0 799.9 1234.0 800.7 1235.9 801.6 1239.5 802.5 1235.8 803.3 1236.5 804.2 1236.5 805.1 1239.8 806.0 1242.2 806.8 1242.6 807.7 1242.2 808.6 1240.2 809.4 1241.6 810.3 1239.3 811.2 1249.9 812.0 1241.7 812.9 1235.7 813.8 1238.1 814.7 1245.3 815.5 1234.9 816.4 1239.5 817.3 1241.7 818.1 1235.7 819.0 1243.3 819.9 1244.8 820.7 1237.8 821.6 1242.9 822.5 1237.2 823.4 1236.6 824.2 1239.3 825.1 1237.8 826.0 1233.4 826.8 1234.7 827.7 1225.4 828.6 1224.0 829.4 1220.3 830.3 1222.4 831.2 1219.7 832.1 1216.4 832.9 1207.8 833.8 1208.6 834.7 1206.2 835.5 1196.9 836.4 1195.6 837.3 1196.0 838.1 1192.4 839.0 1187.0 839.9 1183.5 840.8 1178.4 841.6 1173.4 842.5 1168.1 843.4 1161.4 844.2 1159.0 845.1 1154.5 846.0 1158.8 846.8 1149.5 847.7 1145.5 848.6 1141.3 849.5 1137.6 850.3 1132.2 851.2 1127.3 852.1 1117.0 852.9 1111.3 853.8 1100.8 854.7 1101.0 855.5 1100.6 856.4 1093.1 857.3 1095.9 858.2 1095.0 859.0 1092.1 859.9 1090.3 860.8 1084.4 861.6 1091.3 862.5 1082.9 863.4 1079.5 864.2 1082.6 865.1 1072.3 866.0 1077.5 866.9 1072.6 867.7 1068.8 868.6 1061.4 869.5 1052.9 870.3 1046.0 871.2 1052.2 872.1 1042.8 872.9 1039.4 873.8 1042.6 874.7 1033.0 875.6 1031.6 876.4 1029.2 877.3 1027.5 878.2 1023.1 879.0 1022.4 879.9 1028.1 880.8 1025.5 881.6 1012.8 882.5 1018.7 883.4 1017.9 884.3 1007.5 885.1 994.2 886.0 993.6 886.9 993.3 887.7 998.9 888.6 1002.4 889.5 1009.0 890.3 1013.6 891.2 1020.8 892.1 1022.7 893.0 1027.3 893.8 1037.4 894.7 1042.2 895.6 1045.3 896.4 1061.6 897.3 1071.7 898.2 1084.3 899.0 1092.4 899.9 1104.3 900.8 1111.6 901.7 1118.7 902.5 1130.2 903.4 1138.9 904.3 1144.9 905.1 1161.0 906.0 1160.2 906.9 1171.5 907.7 1180.4 908.6 1193.4 909.5 1195.7 910.4 1201.7 911.2 1205.9 912.1 1211.8 913.0 1215.7 913.8 1227.5 914.7 1231.7 915.6 1238.5 916.4 1239.9 917.3 1254.5 918.2 1250.8 919.1 1253.3 919.9 1262.8 920.8 1267.9 921.7 1272.7 922.5 1270.8 923.4 1277.8 924.3 1283.2 925.1 1278.7 926.0 1281.1 926.9 1280.4 927.8 1287.2 928.6 1290.3 929.5 1291.3 930.4 1292.6 931.2 1295.2 932.1 1292.7 933.0 1295.8 933.8 1291.6 934.7 1292.7 935.6 1296.2 936.5 1294.0 937.3 1298.3 938.2 1301.1 939.1 1299.1 939.9 1296.8 940.8 1297.4 941.7 1303.5 942.5 1298.5 943.4 1301.5 944.3 1301.4 945.2 1303.0 946.0 1306.6 946.9 1303.3 947.8 1302.0 948.6 1310.4 949.5 1308.5 950.4 1310.4 951.2 1309.5 952.1 1312.4 953.0 1316.5 953.9 1315.6 954.7 1312.0 955.6 1313.1 956.5 1314.0 957.3 1314.2 958.2 1314.6 959.1 1313.8 959.9 1312.7 960.8 1314.4 961.7 1314.5 962.6 1315.5 963.4 1317.9 964.3 1315.6 965.2 1312.2 966.0 1315.4 966.9 1312.4 967.8 1315.5 968.6 1312.6 969.5 1312.9 970.4 1312.0 971.3 1311.3 972.1 1307.0 973.0 1310.9 973.9 1304.5 974.7 1311.5 975.6 1312.6 976.5 1315.2 977.3 1310.7 978.2 1307.8 979.1 1305.3 980.0 1314.4 980.8 1305.5 981.7 1311.3 982.6 1302.9 983.4 1308.6 984.3 1310.4 985.2 1309.3 986.0 1308.3 986.9 1306.2 987.8 1305.9 988.7 1308.8 989.5 1308.4 990.4 1307.9 991.3 1308.2 992.1 1307.4 993.0 1308.8 993.9 1309.2 994.7 1308.2 995.6 1309.5 996.5 1312.5 997.4 1308.8 998.2 1316.5 999.1 1315.8 1000.0 1312.0 1000.8 1315.9 1001.7 1318.4 1002.6 1311.6 1003.4 1315.7 1004.3 1315.7 1005.2 1316.0 1006.1 1316.8 1006.9 1316.1 1007.8 1315.5 1008.7 1315.5 1009.5 1316.3 1010.4 1317.9 1011.3 1316.2 1012.1 1315.9 1013.0 1316.1 1013.9 1319.5 1014.8 1317.5 1015.6 1314.1 1016.5 1315.2 1017.4 1319.0 1018.2 1314.4 1019.1 1314.8 1020.0 1315.6 1020.8 1312.9 1021.7 1319.3 1022.6 1309.8 1023.5 1319.1 1024.3 1314.2 1025.2 1312.0 1026.1 1315.8 1026.9 1310.5 1027.8 1316.1 1028.7 1316.4 1029.5 1312.7 1030.4 1312.7 1031.3 1313.1 1032.2 1303.6 1033.0 1299.7 1033.9 1296.3 1034.8 1299.4 1035.6 1289.2 1036.5 1288.6 1037.4 1289.7 1038.2 1278.1 1039.1 1282.3 1040.0 1276.3 1040.9 1275.0 1041.7 1283.5 1042.6 1276.9 1043.5 1280.3 1044.3 1270.0 1045.2 1265.9 1046.1 1260.9 1046.9 1257.7 1047.8 1257.0 1048.7 1257.9 1049.6 1260.3 1050.4 1260.9 1051.3 1263.4 1052.2 1262.8 1053.0 1264.8 1053.9 1262.0 1054.8 1270.0 1055.6 1267.9 1056.5 1273.3 1057.4 1277.6 1058.3 1285.9 1059.1 1289.2 1060.0 1292.6 1060.9 1297.8 1061.7 1302.5 1062.6 1307.0 1063.5 1309.1 1064.3 1313.5 1065.2 1316.5 1066.1 1315.9 1067.0 1312.8 1067.8 1322.6 1068.7 1325.5 1069.6 1320.9 1070.4 1322.5 1071.3 1320.0 1072.2 1328.8 1073.0 1325.9 1073.9 1334.7 1074.8 1325.4 1075.7 1333.5 1076.5 1336.5 1077.4 1335.1 1078.3 1335.2 1079.1 1338.5 1080.0 1337.1 1080.9 1338.1 1081.7 1339.3 1082.6 1338.5 1083.5 1339.7 1084.4 1342.6 1085.2 1339.9 1086.1 1341.6 1087.0 1339.5 1087.8 1343.8 1088.7 1338.4 1089.6 1344.0 1090.4 1334.0 1091.3 1339.2 1092.2 1337.5 1093.1 1343.9 1093.9 1341.9 1094.8 1337.8 1095.7 1339.5 1096.5 1344.1 1097.4 1340.5 1098.3 1341.8 1099.1 1336.5 1100.0 1336.4 1100.9 1342.3 1101.8 1345.7 1102.6 1338.4 1103.5 1341.2 1104.4 1337.3 1105.2 1342.7 1106.1 1338.4 1107.0 1338.3 1107.8 1334.6 1108.7 1338.3 1109.6 1339.7 1110.5 1342.6 1111.3 1336.2 1112.2 1341.5 1113.1 1338.1 1113.9 1338.2 1114.8 1336.5 1115.7 1334.6 1116.5 1335.8 1117.4 1345.2 1118.3 1335.8 1119.2 1337.6 1120.0 1341.5 1120.9 1333.4 1121.8 1339.8 1122.6 1337.4 1123.5 1339.2 1124.4 1341.0 1125.2 1338.3 1126.1 1338.6 1127.0 1341.1 1127.9 1341.0 1128.7 1337.8 1129.6 1339.3 1130.5 1336.6 1131.3 1343.4 1132.2 1337.3 1133.1 1341.0 1133.9 1345.1 1134.8 1342.9 1135.7 1339.8 1136.6 1339.4 1137.4 1339.8 1138.3 1343.7 1139.2 1342.3 1140.0 1341.5 1140.9 1348.0 1141.8 1339.4 1142.6 1340.2 1143.5 1340.5 1144.4 1341.9 1145.3 1342.1 1146.1 1340.6 1147.0 1343.0 1147.9 1342.4 1148.7 1340.1 1149.6 1334.6 1150.5 1342.6 1151.3 1338.0 1152.2 1338.5 1153.1 1339.6 1154.0 1336.6 1154.8 1336.2 1155.7 1334.9 1156.6 1329.4 1157.4 1327.0 1158.3 1321.1 1159.2 1321.8 1160.0 1319.0 1160.9 1320.4 1161.8 1321.4 1162.7 1319.7 1163.5 1316.3 1164.4 1319.2 1165.3 1319.7 1166.1 1321.9 1167.0 1318.6 1167.9 1317.2 1168.7 1314.7 1169.6 1322.3 1170.5 1314.1 1171.4 1313.0 1172.2 1314.8 1173.1 1309.8 1174.0 1316.7 1174.8 1313.8 1175.7 1314.1 1176.6 1309.9 1177.4 1310.8 1178.3 1314.1 1179.2 1314.3 1180.1 1319.5 1180.9 1315.6 1181.8 1308.6 1182.7 1314.6 1183.5 1314.5 1184.4 1319.2 1185.3 1317.1 1186.1 1319.5 1187.0 1318.1 1187.9 1321.2 1188.8 1324.1 1189.6 1319.6 1190.5 1316.6 1191.4 1319.9 1192.2 1327.2 1193.1 1324.5 1194.0 1323.9 1194.8 1322.8 1195.7 1328.6 1196.6 1327.3 1197.5 1326.8 1198.3 1326.3 1199.2 1327.8 1200.1 1327.9 1200.9 1330.7 1201.8 1333.1 1202.7 1325.4 1203.5 1327.3 1204.4 1331.3 1205.3 1332.4 1206.2 1329.1 1207.0 1332.2 1207.9 1333.5 1208.8 1334.1 1209.6 1334.7 1210.5 1336.2 1211.4 1339.1 1212.2 1339.1 1213.1 1339.1 1214.0 1338.6 1214.9 1336.4 1215.7 1336.5 1216.6 1340.5 1217.5 1339.4 1218.3 1341.4 1219.2 1340.5 1220.1 1340.4 1220.9 1341.8 1221.8 1337.5 1222.7 1341.6 1223.6 1341.3 1224.4 1345.7 1225.3 1342.7 1226.2 1345.8 1227.0 1344.9 1227.9 1347.9 1228.8 1349.2 1229.6 1347.5 1230.5 1348.7 1231.4 1349.3 1232.3 1351.2 1233.1 1348.2 1234.0 1350.0 1234.9 1349.2 1235.7 1348.2 1236.6 1351.3 1237.5 1352.2 1238.3 1349.4 1239.2 1355.5 1240.1 1350.1 1241.0 1354.0 1241.8 1353.3 1242.7 1348.5 1243.6 1352.8 1244.4 1349.3 1245.3 1353.1 1246.2 1355.3 1247.0 1358.5 1247.9 1356.1 1248.8 1350.7 1249.7 1353.9 1250.5 1358.7 1251.4 1355.9 1252.3 1359.9 1253.1 1354.1 1254.0 1354.8 1254.9 1353.1 1255.7 1355.7 1256.6 1359.9 1257.5 1354.8 1258.4 1359.3 1259.2 1358.5 1260.1 1359.4 1261.0 1357.0 1261.8 1357.7 1262.7 1363.0 1263.6 1354.8 1264.4 1359.7 1265.3 1361.7 1266.2 1359.1 1267.1 1362.1 1267.9 1350.9 1268.8 1357.4 1269.7 1353.5 1270.5 1357.3 1271.4 1358.1 1272.3 1359.5 1273.1 1356.3 1274.0 1360.6 1274.9 1352.2 1275.8 1360.8 1276.6 1357.9 1277.5 1354.2 1278.4 1354.2 1279.2 1354.2 1280.1 1356.1 1281.0 1358.8 1281.8 1361.7 1282.7 1360.4 1283.6 1355.3 1284.5 1352.9 1285.3 1357.7 1286.2 1354.9 1287.1 1357.9 1287.9 1356.7 1288.8 1364.5 1289.7 1354.0 1290.5 1358.9 1291.4 1362.6 1292.3 1357.1 1293.2 1356.1 1294.0 1362.0 1294.9 1352.7 1295.8 1353.6 1296.6 1354.8 1297.5 1358.7 1298.4 1359.5 1299.2 1357.3 1300.1 1362.9 1301.0 1357.0 1301.9 1357.5 1302.7 1356.7 1303.6 1360.4 1304.5 1357.4 1305.3 1356.4 1306.2 1361.4 1307.1 1360.4 1307.9 1359.7 1308.8 1354.1 1309.7 1354.5 1310.6 1356.5 1311.4 1356.4 1312.3 1356.0 1313.2 1356.5 1314.0 1358.6 1314.9 1354.4 1315.8 1357.5 1316.6 1355.9 1317.5 1355.6 1318.4 1356.1 1319.3 1358.5 1320.1 1357.6 1321.0 1354.7 1321.9 1357.4 1322.7 1356.8 1323.6 1357.5 1324.5 1355.7 1325.3 1358.8 1326.2 1357.2 1327.1 1353.4 1328.0 1353.0 1328.8 1352.6 1329.7 1357.0 1330.6 1354.2 1331.4 1355.0 1332.3 1355.6 1333.2 1358.7 1334.0 1361.0 1334.9 1355.2 1335.8 1360.3 1336.7 1356.7 1337.5 1358.2 1338.4 1354.4 1339.3 1352.0 1340.1 1356.8 1341.0 1358.0 1341.9 1350.9 1342.7 1354.5 1343.6 1355.1 1344.5 1355.9 1345.4 1351.6 1346.2 1352.8 1347.1 1356.3 1348.0 1358.4 1348.8 1354.1 1349.7 1356.1 1350.6 1354.0 1351.4 1354.5 1352.3 1352.3 1353.2 1352.2 1354.1 1351.6 1354.9 1353.1 1355.8 1355.4 1356.7 1353.1 1357.5 1355.0 1358.4 1350.7 1359.3 1354.0 1360.1 1344.3 1361.0 1348.4 1361.9 1351.0 1362.8 1347.2 1363.6 1352.9 1364.5 1351.9 1365.4 1349.0 1366.2 1351.3 1367.1 1347.2 1368.0 1348.5 1368.8 1349.6 1369.7 1346.5 1370.6 1352.9 1371.5 1348.5 1372.3 1352.6 1373.2 1349.5 1374.1 1350.6 1374.9 1347.5 1375.8 1348.4 1376.7 1348.6 1377.5 1350.2 1378.4 1355.0 1379.3 1348.2 1380.2 1349.2 1381.0 1350.5 1381.9 1351.8 1382.8 1349.4 1383.6 1348.8 1384.5 1348.3 1385.4 1349.8 1386.2 1350.4 1387.1 1348.2 1388.0 1349.2 1388.9 1351.9 1389.7 1350.0 1390.6 1348.7 1391.5 1351.9 1392.3 1352.0 1393.2 1351.8 1394.1 1352.0 1394.9 1349.5 1395.8 1351.0 1396.7 1351.4 1397.6 1350.9 1398.4 1346.4 1399.3 1350.8 1400.2 1351.8 1401.0 1352.2 1401.9 1350.4 1402.8 1351.4 1403.6 1347.0 1404.5 1347.9 1405.4 1344.4 1406.3 1351.3 1407.1 1356.0 1408.0 1356.5 1408.9 1349.6 1409.7 1354.1 1410.6 1355.8 1411.5 1351.6 1412.3 1348.2 1413.2 1356.6 1414.1 1351.8 1415.0 1352.4 1415.8 1357.7 1416.7 1354.7 1417.6 1355.7 1418.4 1357.6 1419.3 1353.4 1420.2 1351.4 1421.0 1355.8 1421.9 1353.9 1422.8 1355.8 1423.7 1355.0 1424.5 1352.2 1425.4 1354.2 1426.3 1353.3 1427.1 1353.6 1428.0 1354.1 1428.9 1355.1 1429.7 1354.8 1430.6 1351.2 1431.5 1355.9 1432.4 1350.8 1433.2 1359.8 1434.1 1352.5 1435.0 1354.2 1435.8 1357.7 1436.7 1353.9 1437.6 1351.3 1438.4 1350.9 1439.3 1355.1 1440.2 1355.4 1441.1 1356.4 1441.9 1355.0 1442.8 1353.2 1443.7 1355.5 1444.5 1357.8 1445.4 1352.3 1446.3 1363.0 1447.1 1353.2 1448.0 1357.3 1448.9 1358.8 1449.8 1356.4 1450.6 1354.9 1451.5 1355.9 1452.4 1357.3 1453.2 1347.6 1454.1 1355.1 1455.0 1353.0 1455.8 1352.2 1456.7 1354.2 1457.6 1354.3 1458.5 1355.0 1459.3 1352.4 1460.2 1356.5 1461.1 1348.6 1461.9 1351.3 1462.8 1350.7 1463.7 1353.9 1464.5 1352.4 1465.4 1354.9 1466.3 1351.6 1467.2 1356.7 1468.0 1355.3 1468.9 1352.2 1469.8 1346.8 1470.6 1350.5 1471.5 1349.6 1472.4 1356.5 1473.2 1356.4 1474.1 1350.3 1475.0 1358.0 1475.9 1352.7 1476.7 1347.9 1477.6 1356.1 1478.5 1356.6 1479.3 1353.5 1480.2 1351.3 1481.1 1356.5 1481.9 1352.3 1482.8 1353.5 1483.7 1354.7 1484.6 1354.3 1485.4 1352.5 1486.3 1351.1 1487.2 1355.5 1488.0 1348.3 1488.9 1355.0 1489.8 1354.8 1490.6 1355.1 1491.5 1352.9 1492.4 1354.4 1493.3 1355.8 1494.1 1351.4 1495.0 1354.1 1495.9 1354.9 1496.7 1350.9 1497.6 1351.7 1498.5 1358.0 1499.3 1356.6 1500.2 1352.3 1501.1 1355.9 1502.0 1355.2 1502.8 1357.6 1503.7 1357.0 1504.6 1348.3 1505.4 1353.5 1506.3 1357.7 1507.2 1358.3 1508.0 1352.8 1508.9 1351.3 1509.8 1354.9 1510.7 1352.7 1511.5 1354.3 1512.4 1351.4 1513.3 1356.1 1514.1 1355.6 1515.0 1355.2 1515.9 1349.7 1516.7 1349.7 1517.6 1350.6 1518.5 1354.8 1519.4 1349.0 1520.2 1354.9 1521.1 1357.5 1522.0 1351.4 1522.8 1352.3 1523.7 1355.0 1524.6 1354.6 1525.4 1350.6 1526.3 1351.5 1527.2 1352.0 1528.1 1350.8 1528.9 1352.7 1529.8 1351.8 1530.7 1354.0 1531.5 1346.3 1532.4 1353.3 1533.3 1352.1 1534.1 1349.6 1535.0 1350.7 1535.9 1351.9 1536.8 1350.0 1537.6 1348.5 1538.5 1349.6 1539.4 1347.1 1540.2 1345.4 1541.1 1346.3 1542.0 1346.4 1542.8 1348.7 1543.7 1350.1 1544.6 1348.7 1545.5 1351.6 1546.3 1347.7 1547.2 1346.3 1548.1 1346.1 1548.9 1344.4 1549.8 1347.2 1550.7 1353.5 1551.5 1344.4 1552.4 1349.4 1553.3 1348.1 1554.2 1350.2 1555.0 1347.1 1555.9 1350.1 1556.8 1347.1 1557.6 1350.0 1558.5 1343.7 1559.4 1349.8 1560.2 1350.5 1561.1 1342.6 1562.0 1351.0 1562.9 1346.2 1563.7 1351.5 1564.6 1349.2 1565.5 1351.0 1566.3 1350.3 1567.2 1346.5 1568.1 1353.4 1568.9 1352.7 1569.8 1347.3 1570.7 1351.3 1571.6 1351.1 1572.4 1348.4 1573.3 1347.6 1574.2 1353.4 1575.0 1349.3 1575.9 1352.6 1576.8 1355.1 1577.6 1351.7 1578.5 1348.4 1579.4 1353.1 1580.3 1347.3 1581.1 1348.5 1582.0 1358.0 1582.9 1348.8 1583.7 1351.6 1584.6 1348.2 1585.5 1350.5 1586.3 1351.3 1587.2 1344.3 1588.1 1349.2 1589.0 1352.4 1589.8 1352.9 1590.7 1351.6 1591.6 1348.4 1592.4 1351.7 1593.3 1349.4 1594.2 1348.7 1595.0 1350.6 1595.9 1356.2 1596.8 1348.3 1597.7 1353.1 1598.5 1351.1 1599.4 1346.8 1600.3 1348.2 1601.1 1350.0 1602.0 1349.2 1602.9 1351.0 1603.7 1347.8 1604.6 1347.8 1605.5 1354.3 1606.4 1350.1 1607.2 1348.1 1608.1 1350.1 1609.0 1354.6 1609.8 1348.6 1610.7 1346.4 1611.6 1352.3 1612.4 1354.8 1613.3 1353.1 1614.2 1346.7 1615.1 1344.8 1615.9 1353.0 1616.8 1349.4 1617.7 1351.1 1618.5 1349.4 1619.4 1354.0 1620.3 1350.0 1621.1 1349.0 1622.0 1350.1 1622.9 1346.8 1623.8 1350.2 1624.6 1349.6 1625.5 1344.7 1626.4 1347.2 1627.2 1345.1 1628.1 1346.2 1629.0 1351.1 1629.8 1353.1 1630.7 1351.2 1631.6 1346.9 1632.5 1346.3 1633.3 1352.7 1634.2 1350.2 1635.1 1350.8 1635.9 1348.0 1636.8 1346.4 1637.7 1357.0 1638.5 1350.2 1639.4 1351.4 1640.3 1349.2 1641.2 1355.9 1642.0 1351.4 1642.9 1352.1 1643.8 1352.7 1644.6 1352.7 1645.5 1356.4 1646.4 1345.9 1647.2 1354.7 1648.1 1351.8 1649.0 1352.5 1649.9 1352.1 1650.7 1354.7 1651.6 1350.6 1652.5 1352.6 1653.3 1355.3 1654.2 1352.6 1655.1 1352.9 1655.9 1355.1 1656.8 1354.4 1657.7 1353.4 1658.6 1354.3 1659.4 1352.0 1660.3 1356.3 1661.2 1351.5 1662.0 1350.3 1662.9 1355.2 1663.8 1351.0 1664.6 1351.9 1665.5 1353.3 1666.4 1355.9 1667.3 1353.0 1668.1 1353.1 1669.0 1353.1 1669.9 1355.1 1670.7 1352.9 1671.6 1354.7 1672.5 1357.5 1673.3 1353.6 1674.2 1353.2 1675.1 1351.9 1676.0 1352.3 1676.8 1351.1 1677.7 1351.4 1678.6 1352.7 1679.4 1355.0 1680.3 1355.3 1681.2 1353.1 1682.0 1354.9 1682.9 1350.9 1683.8 1359.2 1684.7 1360.2 1685.5 1353.8 1686.4 1355.4 1687.3 1354.4 1688.1 1356.0 1689.0 1352.6 1689.9 1350.4 1690.7 1356.1 1691.6 1351.5 1692.5 1355.0 1693.4 1351.9 1694.2 1352.2 1695.1 1356.5 1696.0 1358.1 1696.8 1353.7 1697.7 1353.0 1698.6 1354.7 1699.4 1352.5 1700.3 1349.5 1701.2 1353.5 1702.1 1347.9 1702.9 1354.3 1703.8 1351.8 1704.7 1353.3 1705.5 1349.1 1706.4 1350.7 1707.3 1353.7 1708.1 1355.5 1709.0 1354.1 1709.9 1352.9 1710.8 1349.1 1711.6 1353.1 1712.5 1352.0 1713.4 1350.8 1714.2 1354.7 1715.1 1349.5 1716.0 1355.6 1716.8 1349.6 1717.7 1349.5 1718.6 1350.8 1719.5 1347.7 1720.3 1349.7 1721.2 1351.0 1722.1 1346.6 1722.9 1348.6 1723.8 1347.1 1724.7 1349.4 1725.5 1353.2 1726.4 1349.2 1727.3 1349.7 1728.2 1350.6 1729.0 1347.2 1729.9 1350.4 1730.8 1348.4 1731.6 1348.0 1732.5 1345.3 1733.4 1347.8 1734.2 1351.8 1735.1 1352.1 1736.0 1348.2 1736.9 1349.0 1737.7 1347.6 1738.6 1345.8 1739.5 1343.9 1740.3 1352.4 1741.2 1345.6 1742.1 1348.3 1742.9 1351.5 1743.8 1346.5 1744.7 1346.8 1745.6 1347.7 1746.4 1345.9 1747.3 1347.2 1748.2 1345.5 1749.0 1348.9 1749.9 1347.0 1750.8 1342.6 1751.6 1341.8 1752.5 1343.1 1753.4 1342.7 1754.3 1341.9 1755.1 1345.6 1756.0 1339.8 1756.9 1340.3 1757.7 1342.0 1758.6 1336.1 1759.5 1341.5 1760.3 1341.3 1761.2 1342.7 1762.1 1336.1 1763.0 1336.8 1763.8 1337.9 1764.7 1335.8 1765.6 1332.6 1766.4 1337.9 1767.3 1334.4 1768.2 1335.5 1769.0 1331.4 1769.9 1336.0 1770.8 1332.2 1771.7 1330.7 1772.5 1334.0 1773.4 1334.3 1774.3 1328.6 1775.1 1333.0 1776.0 1334.1 1776.9 1330.1 1777.7 1325.4 1778.6 1329.9 1779.5 1330.7 1780.4 1325.0 1781.2 1331.4 1782.1 1326.2 1783.0 1326.0 1783.8 1328.6 1784.7 1326.0 1785.6 1328.2 1786.4 1324.5 1787.3 1325.1 1788.2 1323.7 1789.1 1323.8 1789.9 1324.2 1790.8 1323.6 1791.7 1321.1 1792.5 1323.9 1793.4 1320.9 1794.3 1323.8 1795.1 1321.9 1796.0 1319.8 1796.9 1317.9 1797.8 1319.7 1798.6 1325.1 1799.5 1319.7 1800.4 1321.6 1801.2 1318.9 1802.1 1318.4 1803.0 1317.5 1803.8 1314.6 1804.7 1320.6 1805.6 1320.3 1806.5 1320.5 1807.3 1323.1 1808.2 1319.1 1809.1 1326.4 1809.9 1318.9 1810.8 1324.3 1811.7 1320.8 1812.5 1323.7 1813.4 1327.9 1814.3 1321.7 1815.2 1326.5 1816.0 1326.8 1816.9 1327.4 1817.8 1328.1 1818.6 1329.9 1819.5 1329.5 1820.4 1329.6 1821.2 1331.4 1822.1 1332.2 1823.0 1329.6 1823.9 1327.2 1824.7 1332.8 1825.6 1330.3 1826.5 1335.7 1827.3 1330.6 1828.2 1329.4 1829.1 1335.8 1829.9 1331.5 1830.8 1330.0 1831.7 1337.3 1832.6 1331.1 1833.4 1338.6 1834.3 1333.5 1835.2 1337.5 1836.0 1337.7 1836.9 1333.2 1837.8 1338.3 1838.6 1338.0 1839.5 1340.0 1840.4 1341.7 1841.3 1344.9 1842.1 1340.9 1843.0 1341.8 1843.9 1347.8 1844.7 1344.7 1845.6 1345.1 1846.5 1337.4 1847.3 1340.2 1848.2 1342.6 1849.1 1343.7 1850.0 1345.6 1850.8 1351.4 1851.7 1341.6 1852.6 1343.9 1853.4 1346.6 1854.3 1345.9 1855.2 1348.2 1856.0 1344.8 1856.9 1343.4 1857.8 1351.0 1858.7 1347.0 1859.5 1343.1 1860.4 1345.4 1861.3 1346.2 1862.1 1342.8 1863.0 1348.6 1863.9 1347.2 1864.7 1346.1 1865.6 1345.6 1866.5 1351.5 1867.4 1347.4 1868.2 1345.9 1869.1 1342.9 1870.0 1345.6 1870.8 1350.1 1871.7 1352.3 1872.6 1345.9 1873.4 1344.0 1874.3 1349.3 1875.2 1349.3 1876.1 1351.8 1876.9 1347.0 1877.8 1350.4 1878.7 1345.8 1879.5 1347.5 1880.4 1348.6 1881.3 1349.9 1882.1 1352.6 1883.0 1354.5 1883.9 1348.3 1884.8 1356.2 1885.6 1350.5 1886.5 1351.6 1887.4 1355.7 1888.2 1347.4 1889.1 1350.1 1890.0 1352.0 1890.8 1354.6 1891.7 1357.4 1892.6 1357.8 1893.5 1353.3 1894.3 1357.7 1895.2 1355.3 1896.1 1360.3 1896.9 1356.3 1897.8 1359.9 1898.7 1355.1 1899.5 1359.8 1900.4 1354.8 1901.3 1358.6 1902.2 1354.6 1903.0 1358.4 1903.9 1356.9 1904.8 1356.5 1905.6 1359.6 1906.5 1361.0 1907.4 1359.4 1908.2 1360.0 1909.1 1361.0 1910.0 1362.3 1910.9 1361.9 1911.7 1360.4 1912.6 1364.4 1913.5 1358.3 1914.3 1361.6 1915.2 1356.9 1916.1 1365.5 1916.9 1359.1 1917.8 1360.2 1918.7 1363.2 1919.6 1359.4 1920.4 1357.9 1921.3 1355.4 1922.2 1359.3 1923.0 1365.0 1923.9 1360.4 1924.8 1364.3 1925.6 1362.1 1926.5 1359.0 1927.4 1356.7 1928.3 1359.7 1929.1 1362.6 1930.0 1359.7 1930.9 1360.9 1931.7 1361.7 1932.6 1359.4 1933.5 1356.8 1934.3 1359.6 1935.2 1361.8 1936.1 1358.4 1937.0 1357.9 1937.8 1358.0 1938.7 1359.9 1939.6 1360.2 1940.4 1360.4 1941.3 1357.5 1942.2 1360.7 1943.0 1359.1 1943.9 1358.4 1944.8 1356.3 1945.7 1358.1 1946.5 1359.3 1947.4 1361.2 1948.3 1361.9 1949.1 1361.0 1950.0 1361.5 1950.9 1358.3 1951.7 1363.0 1952.6 1363.0 1953.5 1362.8 1954.4 1359.9 1955.2 1361.0 1956.1 1360.1 1957.0 1358.1 1957.8 1360.5 1958.7 1355.2 1959.6 1357.1 1960.4 1362.7 1961.3 1362.8 1962.2 1363.5 1963.1 1360.4 1963.9 1361.6 1964.8 1362.9 1965.7 1360.7 1966.5 1356.7 1967.4 1367.1 1968.3 1364.8 1969.1 1364.8 1970.0 1362.1 1970.9 1360.0 1971.8 1362.2 1972.6 1362.7 1973.5 1358.8 1974.4 1361.0 1975.2 1363.6 1976.1 1365.9 1977.0 1363.8 1977.8 1361.4 1978.7 1359.3 1979.6 1367.4 1980.5 1362.9 1981.3 1364.5 1982.2 1362.8 1983.1 1359.6 1983.9 1368.1 1984.8 1364.6 1985.7 1366.1 1986.5 1361.3 1987.4 1363.3 1988.3 1366.8 1989.2 1362.3 1990.0 1362.1 1990.9 1361.2 1991.8 1360.8 1992.6 1366.3 1993.5 1364.3 1994.4 1360.3 1995.2 1368.5 1996.1 1368.1 1997.0 1368.0 1997.9 1360.9 1998.7 1365.8 1999.6 1368.9 2000.5 1363.5 2001.3 1364.2 2002.2 1365.8 2003.1 1361.7 2003.9 1367.2 2004.8 1369.3 2005.7 1368.7 2006.6 1370.9 2007.4 1367.7 2008.3 1367.6 2009.2 1367.4 2010.0 1366.3 2010.9 1365.6 2011.8 1366.6 2012.6 1368.3 2013.5 1367.3 2014.4 1369.0 2015.3 1369.1 2016.1 1370.5 2017.0 1367.2 2017.9 1364.3 2018.7 1367.0 2019.6 1374.0 2020.5 1371.3 2021.3 1368.6 2022.2 1369.1 2023.1 1369.5 2024.0 1368.6 2024.8 1370.3 2025.7 1371.5 2026.6 1372.8 2027.4 1369.1 2028.3 1369.4 2029.2 1369.3 2030.0 1370.2 2030.9 1372.8 2031.8 1368.5 2032.7 1375.6 2033.5 1371.7 2034.4 1373.1 2035.3 1368.4 2036.1 1369.7 2037.0 1369.3 2037.9 1370.7 2038.7 1365.8 2039.6 1371.9 2040.5 1366.8 2041.4 1371.7 2042.2 1373.3 2043.1 1370.8 2044.0 1370.3 2044.8 1370.6 2045.7 1370.5 2046.6 1371.7 2047.4 1373.3 2048.3 1372.7 2049.2 1374.8 2050.1 1371.5 2050.9 1370.1 2051.8 1370.3 2052.7 1368.5 2053.5 1370.5 2054.4 1370.1 2055.3 1375.7 2056.1 1372.8 2057.0 1375.8 2057.9 1367.1 2058.8 1372.4 2059.6 1374.1 2060.5 1372.5 2061.4 1370.7 2062.2 1372.2 2063.1 1372.1 2064.0 1372.2 2064.8 1372.5 2065.7 1374.1 2066.6 1372.4 2067.5 1372.6 2068.3 1372.0 2069.2 1373.1 2070.1 1370.3 2070.9 1373.4 2071.8 1371.3 2072.7 1374.1 2073.5 1370.7 2074.4 1372.0 2075.3 1371.6 2076.2 1368.5 2077.0 1374.6 2077.9 1373.1 2078.8 1372.3 2079.6 1375.1 2080.5 1371.5 2081.4 1372.2 2082.2 1374.9 2083.1 1378.0 2084.0 1372.5 2084.9 1376.1 2085.7 1372.7 2086.6 1370.5 2087.5 1373.6 2088.3 1375.3 2089.2 1372.9 2090.1 1373.5 2090.9 1369.9 2091.8 1367.1 2092.7 1373.0 2093.6 1369.1 2094.4 1372.3 2095.3 1370.9 2096.2 1372.8 2097.0 1374.5 2097.9 1368.5 2098.8 1372.1 2099.6 1372.1 2100.5 1375.7 2101.4 1372.7 2102.3 1370.7 2103.1 1371.3 2104.0 1377.0 2104.9 1370.7 2105.7 1373.0 2106.6 1373.6 2107.5 1370.4 2108.3 1371.2 2109.2 1368.6 2110.1 1371.2 2111.0 1375.0 2111.8 1374.0 2112.7 1369.2 2113.6 1379.1 2114.4 1370.7 2115.3 1371.7 2116.2 1377.8 2117.0 1375.2 2117.9 1374.1" fill="none" stroke="#000" stroke-width="3.8" stroke-linejoin="round"/>
<path d="M164.5,25.2 H2121 M164.5,22.599999999999998 V1470.1 M2121,22.599999999999998 V1470.1 M161.9,1467.5 H2123.6" stroke="#000" stroke-width="5.2" fill="none"/>
<path d="M164.6,1467.5 V1497.5 M273.2,1467.5 V1483 M381.9,1467.5 V1497.5 M490.5,1467.5 V1483 M599.1,1467.5 V1497.5 M707.7,1467.5 V1483 M816.4,1467.5 V1497.5 M925.0,1467.5 V1483 M1033.6,1467.5 V1497.5 M1142.2,1467.5 V1483 M1250.8,1467.5 V1497.5 M1359.5,1467.5 V1483 M1468.1,1467.5 V1497.5 M1576.7,1467.5 V1483 M1685.3,1467.5 V1497.5 M1794.0,1467.5 V1483 M1902.6,1467.5 V1497.5 M2011.2,1467.5 V1483 M2119.9,1467.5 V1497.5" stroke="#000" stroke-width="5" fill="none"/>
<text x="164.6" y="1561.8" font-family="'Liberation Sans', Arial, sans-serif" font-size="61" text-anchor="middle" fill="#000">5</text>
<text x="381.9" y="1561.8" font-family="'Liberation Sans', Arial, sans-serif" font-size="61" text-anchor="middle" fill="#000">10</text>
<text x="599.1" y="1561.8" font-family="'Liberation Sans', Arial, sans-serif" font-size="61" text-anchor="middle" fill="#000">15</text>
<text x="816.4" y="1561.8" font-family="'Liberation Sans', Arial, sans-serif" font-size="61" text-anchor="middle" fill="#000">20</text>
<text x="1033.6" y="1561.8" font-family="'Liberation Sans', Arial, sans-serif" font-size="61" text-anchor="middle" fill="#000">25</text>
<text x="1250.8" y="1561.8" font-family="'Liberation Sans', Arial, sans-serif" font-size="61" text-anchor="middle" fill="#000">30</text>
<text x="1468.1" y="1561.8" font-family="'Liberation Sans', Arial, sans-serif" font-size="61" text-anchor="middle" fill="#000">35</text>
<text x="1685.3" y="1561.8" font-family="'Liberation Sans', Arial, sans-serif" font-size="61" text-anchor="middle" fill="#000">40</text>
<text x="1902.6" y="1561.8" font-family="'Liberation Sans', Arial, sans-serif" font-size="61" text-anchor="middle" fill="#000">45</text>
<text x="2119.9" y="1561.8" font-family="'Liberation Sans', Arial, sans-serif" font-size="61" text-anchor="middle" fill="#000">50</text>
<rect x="1550.5" y="829.5" width="478.5" height="286" fill="#fff" stroke="#9a9a9a" stroke-width="4"/>
<path d="M2029,827.5 V1117.5 M1548.5,1115.5 H2031" stroke="#555" stroke-width="4" fill="none"/>
<rect x="1556" y="878.5" width="171" height="5" fill="#555"/>
<rect x="1556" y="970.5" width="171" height="5" fill="#ff2020"/>
<rect x="1556" y="1061.5" width="171" height="5" fill="#5555ff"/>
<text transform="translate(1034.08,78.48) scale(0.9131,1)" font-family="'Liberation Sans', Arial, sans-serif" font-weight="400" font-size="61.80" fill="#333" stroke="#fff" stroke-width="1.2">25°</text>
<text transform="translate(1201.22,138.00) scale(0.9538,1)" font-family="'Liberation Sans', Arial, sans-serif" font-weight="400" font-size="60.29" fill="#333" stroke="#fff" stroke-width="1.2">Crystallinity:</text>
<text transform="translate(1527.60,138.00) scale(0.9624,1)" font-family="'Liberation Sans', Arial, sans-serif" font-weight="400" font-size="60.29" fill="#333" stroke="#fff" stroke-width="1.2">78.20(±0.00)</text>
<text transform="translate(1854.96,138.00) scale(0.5959,1)" font-family="'Liberation Sans', Arial, sans-serif" font-weight="400" font-size="60.29" fill="#333" stroke="#fff" stroke-width="1.2">%</text>
<text transform="translate(475.06,241.50) scale(1.0336,1)" font-family="'Liberation Sans', Arial, sans-serif" font-weight="400" font-size="60.00" fill="#0a0ac8" stroke="#0a0ac8" stroke-width="1.6">β(300)</text>
<text transform="translate(502.89,294.80) scale(1.0562,1)" font-family="'Liberation Sans', Arial, sans-serif" font-weight="400" font-size="56.98" fill="#000" stroke="#000" stroke-width="1.6">16.3°</text>
<text transform="translate(687.91,274.25) scale(1.0606,1)" font-family="'Liberation Sans', Arial, sans-serif" font-weight="400" font-size="61.01" fill="#2525d0" stroke="#fff" stroke-width="1.2">α</text>
<text transform="translate(725.38,274.25) scale(0.9338,1)" font-family="'Liberation Sans', Arial, sans-serif" font-weight="400" font-size="61.01" fill="#2525d0" stroke="#fff" stroke-width="1.2">(040)</text>
<text transform="translate(1012.11,282.20) scale(1.0606,1)" font-family="'Liberation Sans', Arial, sans-serif" font-weight="400" font-size="61.01" fill="#2525d0" stroke="#fff" stroke-width="1.2">α</text>
<text transform="translate(1049.36,282.20) scale(0.9946,1)" font-family="'Liberation Sans', Arial, sans-serif" font-weight="400" font-size="61.01" fill="#2525d0" stroke="#fff" stroke-width="1.2">(111)</text>
<text transform="translate(688.37,345.08) scale(0.9372,1)" font-family="'Liberation Sans', Arial, sans-serif" font-weight="400" font-size="61.80" fill="#333" stroke="#fff" stroke-width="1.2">17.1°</text>
<text transform="translate(878.36,332.77) scale(0.9189,1)" font-family="'Liberation Sans', Arial, sans-serif" font-weight="400" font-size="61.80" fill="#333" stroke="#fff" stroke-width="1.2">21.4°</text>
<text transform="translate(409.46,383.88) scale(0.9189,1)" font-family="'Liberation Sans', Arial, sans-serif" font-weight="400" font-size="61.80" fill="#333" stroke="#fff" stroke-width="1.2">14.3°</text>
<text transform="translate(729.96,422.62) scale(0.9189,1)" font-family="'Liberation Sans', Arial, sans-serif" font-weight="400" font-size="61.80" fill="#333" stroke="#fff" stroke-width="1.2">18.8°</text>
<text transform="translate(920.73,408.08) scale(0.9304,1)" font-family="'Liberation Sans', Arial, sans-serif" font-weight="400" font-size="61.80" fill="#333" stroke="#fff" stroke-width="1.2">22.0°</text>
<text transform="translate(354.21,467.60) scale(1.0606,1)" font-family="'Liberation Sans', Arial, sans-serif" font-weight="400" font-size="61.01" fill="#2525d0" stroke="#fff" stroke-width="1.2">α</text>
<text transform="translate(391.60,467.60) scale(0.9552,1)" font-family="'Liberation Sans', Arial, sans-serif" font-weight="400" font-size="61.01" fill="#2525d0" stroke="#fff" stroke-width="1.2">(110)</text>
<text transform="translate(982.21,452.20) scale(1.0606,1)" font-family="'Liberation Sans', Arial, sans-serif" font-weight="400" font-size="61.01" fill="#2525d0" stroke="#fff" stroke-width="1.2">α</text>
<text transform="translate(1019.70,452.20) scale(0.9279,1)" font-family="'Liberation Sans', Arial, sans-serif" font-weight="400" font-size="61.01" fill="#2525d0" stroke="#fff" stroke-width="1.2">(131)</text>
<text transform="translate(1201.52,481.60) scale(0.9545,1)" font-family="'Liberation Sans', Arial, sans-serif" font-weight="400" font-size="60.29" fill="#333" stroke="#fff" stroke-width="1.2">Crystallinity:</text>
<text transform="translate(1528.10,481.60) scale(0.9609,1)" font-family="'Liberation Sans', Arial, sans-serif" font-weight="400" font-size="60.29" fill="#333" stroke="#fff" stroke-width="1.2">68.10(±6.50)</text>
<text transform="translate(1854.96,481.60) scale(0.5959,1)" font-family="'Liberation Sans', Arial, sans-serif" font-weight="400" font-size="60.29" fill="#333" stroke="#fff" stroke-width="1.2">%</text>
<text transform="translate(702.41,585.95) scale(1.0606,1)" font-family="'Liberation Sans', Arial, sans-serif" font-weight="400" font-size="61.01" fill="#2525d0" stroke="#fff" stroke-width="1.2">α</text>
<text transform="translate(739.88,585.95) scale(0.9353,1)" font-family="'Liberation Sans', Arial, sans-serif" font-weight="400" font-size="61.01" fill="#2525d0" stroke="#fff" stroke-width="1.2">(130)</text>
<text transform="translate(686.72,696.62) scale(0.9262,1)" font-family="'Liberation Sans', Arial, sans-serif" font-weight="400" font-size="61.80" fill="#333" stroke="#fff" stroke-width="1.2">16.8°</text>
<text transform="translate(710.41,762.45) scale(1.0606,1)" font-family="'Liberation Sans', Arial, sans-serif" font-weight="400" font-size="61.01" fill="#ff2020" stroke="#fff" stroke-width="1.2">α</text>
<text transform="translate(747.90,762.45) scale(0.9293,1)" font-family="'Liberation Sans', Arial, sans-serif" font-weight="400" font-size="61.01" fill="#ff2020" stroke="#fff" stroke-width="1.2">(040)</text>
<text transform="translate(493.44,824.73) scale(0.9226,1)" font-family="'Liberation Sans', Arial, sans-serif" font-weight="400" font-size="61.80" fill="#333" stroke="#fff" stroke-width="1.2">13.9°</text>
<text transform="translate(351.31,904.15) scale(1.0606,1)" font-family="'Liberation Sans', Arial, sans-serif" font-weight="400" font-size="61.01" fill="#ff2020" stroke="#fff" stroke-width="1.2">α</text>
<text transform="translate(388.69,904.15) scale(0.9590,1)" font-family="'Liberation Sans', Arial, sans-serif" font-weight="400" font-size="61.01" fill="#ff2020" stroke="#fff" stroke-width="1.2">(110)</text>
<text transform="translate(745.21,907.55) scale(1.0606,1)" font-family="'Liberation Sans', Arial, sans-serif" font-weight="400" font-size="61.01" fill="#ff2020" stroke="#fff" stroke-width="1.2">α</text>
<text transform="translate(782.69,907.55) scale(0.9316,1)" font-family="'Liberation Sans', Arial, sans-serif" font-weight="400" font-size="61.01" fill="#ff2020" stroke="#fff" stroke-width="1.2">(130)</text>
<text transform="translate(978.91,954.60) scale(1.0606,1)" font-family="'Liberation Sans', Arial, sans-serif" font-weight="400" font-size="61.01" fill="#ff2020" stroke="#fff" stroke-width="1.2">α</text>
<text transform="translate(1016.39,954.60) scale(0.9316,1)" font-family="'Liberation Sans', Arial, sans-serif" font-weight="400" font-size="61.01" fill="#ff2020" stroke="#fff" stroke-width="1.2">(131)</text>
<text transform="translate(744.10,968.48) scale(0.9306,1)" font-family="'Liberation Sans', Arial, sans-serif" font-weight="400" font-size="61.80" fill="#333" stroke="#fff" stroke-width="1.2">18.4°</text>
<text transform="translate(911.77,1015.02) scale(0.9174,1)" font-family="'Liberation Sans', Arial, sans-serif" font-weight="400" font-size="61.80" fill="#333" stroke="#fff" stroke-width="1.2">21.6°</text>
<text transform="translate(1201.52,1269.75) scale(0.9545,1)" font-family="'Liberation Sans', Arial, sans-serif" font-weight="400" font-size="60.29" fill="#333" stroke="#fff" stroke-width="1.2">Crystallinity:</text>
<text transform="translate(1526.64,1270.00) scale(0.9652,1)" font-family="'Liberation Sans', Arial, sans-serif" font-weight="400" font-size="60.29" fill="#333" stroke="#fff" stroke-width="1.2">45.87(±2.54)</text>
<text transform="translate(1854.96,1270.00) scale(0.5959,1)" font-family="'Liberation Sans', Arial, sans-serif" font-weight="400" font-size="60.29" fill="#333" stroke="#fff" stroke-width="1.2">%</text>
<text transform="translate(1743.82,906.65) scale(0.9620,1)" font-family="'Liberation Sans', Arial, sans-serif" font-weight="400" font-size="77.70" fill="#000">PP</text>
<text transform="translate(1743.82,998.55) scale(0.9622,1)" font-family="'Liberation Sans', Arial, sans-serif" font-weight="400" font-size="77.70" fill="#000">PP/RCF</text>
<text transform="translate(1743.81,1089.80) scale(0.9640,1)" font-family="'Liberation Sans', Arial, sans-serif" font-weight="400" font-size="77.70" fill="#000">RCF</text>
<text transform="translate(1048.91,1655.60) scale(1.0011,1)" font-family="'Liberation Sans', Arial, sans-serif" font-weight="400" font-size="75.68" fill="#000">2θ (°)</text>
<text transform="translate(70.3,981.27) rotate(-90) scale(0.9870,1)" font-family="'Liberation Sans', Arial, sans-serif" font-size="76.23" fill="#000">Intensity (a.u.)</text>
</svg>
</body></html>
